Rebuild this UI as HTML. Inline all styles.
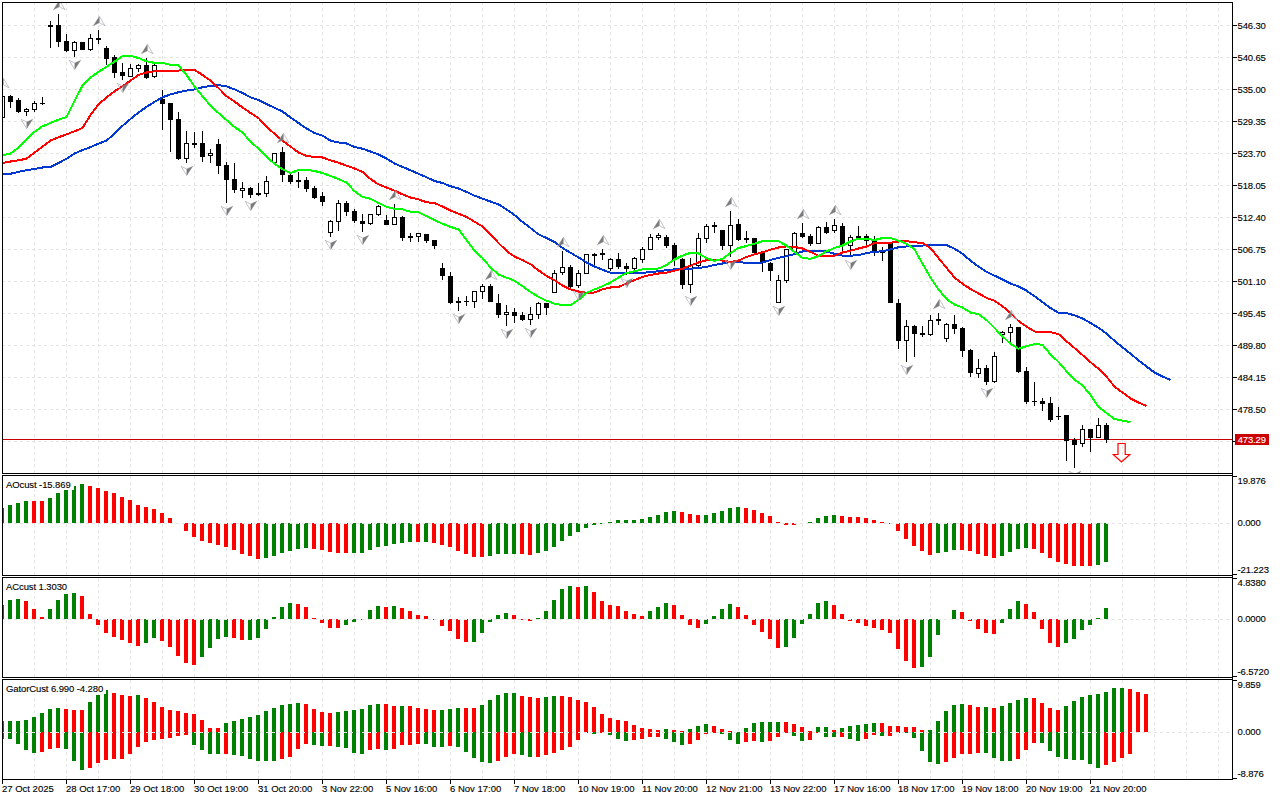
<!DOCTYPE html><html><head><meta charset="utf-8"><title>chart</title><style>
html,body{margin:0;padding:0;background:#fff;width:1280px;height:800px;overflow:hidden}
svg{display:block;position:absolute;left:0;top:0}
text{font-family:"Liberation Sans",sans-serif;font-size:9.5px;letter-spacing:-0.15px;fill:#000;stroke:#000;stroke-width:0.12px}
.wl{letter-spacing:-0.1px}.dl{letter-spacing:0}
.ce{shape-rendering:crispEdges}
</style></head><body>
<svg width="1280" height="800" viewBox="0 0 1280 800">
<rect width="1280" height="800" fill="#fff"/>
<defs>
<clipPath id="cm"><rect x="3" y="3" width="1229" height="470"/></clipPath>
<clipPath id="c1"><rect x="3" y="476" width="1229" height="99"/></clipPath>
<clipPath id="c2"><rect x="3" y="578" width="1229" height="99"/></clipPath>
<clipPath id="c3"><rect x="3" y="680" width="1229" height="99"/></clipPath>
</defs>
<g class="ce" stroke="#e4e4e4" stroke-width="1" fill="none" stroke-dasharray="3 3">
<path d="M34.5 2V473"/>
<path d="M34.5 476V575" clip-path="none" stroke-dashoffset="0"/>
<path d="M34.5 578V677" clip-path="none" stroke-dashoffset="0"/>
<path d="M34.5 680V779" clip-path="none" stroke-dashoffset="0"/>
<path d="M66.5 2V473"/>
<path d="M66.5 476V575" clip-path="none" stroke-dashoffset="0"/>
<path d="M66.5 578V677" clip-path="none" stroke-dashoffset="0"/>
<path d="M66.5 680V779" clip-path="none" stroke-dashoffset="0"/>
<path d="M98.5 2V473"/>
<path d="M98.5 476V575" clip-path="none" stroke-dashoffset="0"/>
<path d="M98.5 578V677" clip-path="none" stroke-dashoffset="0"/>
<path d="M98.5 680V779" clip-path="none" stroke-dashoffset="0"/>
<path d="M130.5 2V473"/>
<path d="M130.5 476V575" clip-path="none" stroke-dashoffset="0"/>
<path d="M130.5 578V677" clip-path="none" stroke-dashoffset="0"/>
<path d="M130.5 680V779" clip-path="none" stroke-dashoffset="0"/>
<path d="M162.5 2V473"/>
<path d="M162.5 476V575" clip-path="none" stroke-dashoffset="0"/>
<path d="M162.5 578V677" clip-path="none" stroke-dashoffset="0"/>
<path d="M162.5 680V779" clip-path="none" stroke-dashoffset="0"/>
<path d="M194.5 2V473"/>
<path d="M194.5 476V575" clip-path="none" stroke-dashoffset="0"/>
<path d="M194.5 578V677" clip-path="none" stroke-dashoffset="0"/>
<path d="M194.5 680V779" clip-path="none" stroke-dashoffset="0"/>
<path d="M226.5 2V473"/>
<path d="M226.5 476V575" clip-path="none" stroke-dashoffset="0"/>
<path d="M226.5 578V677" clip-path="none" stroke-dashoffset="0"/>
<path d="M226.5 680V779" clip-path="none" stroke-dashoffset="0"/>
<path d="M258.5 2V473"/>
<path d="M258.5 476V575" clip-path="none" stroke-dashoffset="0"/>
<path d="M258.5 578V677" clip-path="none" stroke-dashoffset="0"/>
<path d="M258.5 680V779" clip-path="none" stroke-dashoffset="0"/>
<path d="M290.5 2V473"/>
<path d="M290.5 476V575" clip-path="none" stroke-dashoffset="0"/>
<path d="M290.5 578V677" clip-path="none" stroke-dashoffset="0"/>
<path d="M290.5 680V779" clip-path="none" stroke-dashoffset="0"/>
<path d="M322.5 2V473"/>
<path d="M322.5 476V575" clip-path="none" stroke-dashoffset="0"/>
<path d="M322.5 578V677" clip-path="none" stroke-dashoffset="0"/>
<path d="M322.5 680V779" clip-path="none" stroke-dashoffset="0"/>
<path d="M354.5 2V473"/>
<path d="M354.5 476V575" clip-path="none" stroke-dashoffset="0"/>
<path d="M354.5 578V677" clip-path="none" stroke-dashoffset="0"/>
<path d="M354.5 680V779" clip-path="none" stroke-dashoffset="0"/>
<path d="M386.5 2V473"/>
<path d="M386.5 476V575" clip-path="none" stroke-dashoffset="0"/>
<path d="M386.5 578V677" clip-path="none" stroke-dashoffset="0"/>
<path d="M386.5 680V779" clip-path="none" stroke-dashoffset="0"/>
<path d="M418.5 2V473"/>
<path d="M418.5 476V575" clip-path="none" stroke-dashoffset="0"/>
<path d="M418.5 578V677" clip-path="none" stroke-dashoffset="0"/>
<path d="M418.5 680V779" clip-path="none" stroke-dashoffset="0"/>
<path d="M450.5 2V473"/>
<path d="M450.5 476V575" clip-path="none" stroke-dashoffset="0"/>
<path d="M450.5 578V677" clip-path="none" stroke-dashoffset="0"/>
<path d="M450.5 680V779" clip-path="none" stroke-dashoffset="0"/>
<path d="M482.5 2V473"/>
<path d="M482.5 476V575" clip-path="none" stroke-dashoffset="0"/>
<path d="M482.5 578V677" clip-path="none" stroke-dashoffset="0"/>
<path d="M482.5 680V779" clip-path="none" stroke-dashoffset="0"/>
<path d="M514.5 2V473"/>
<path d="M514.5 476V575" clip-path="none" stroke-dashoffset="0"/>
<path d="M514.5 578V677" clip-path="none" stroke-dashoffset="0"/>
<path d="M514.5 680V779" clip-path="none" stroke-dashoffset="0"/>
<path d="M546.5 2V473"/>
<path d="M546.5 476V575" clip-path="none" stroke-dashoffset="0"/>
<path d="M546.5 578V677" clip-path="none" stroke-dashoffset="0"/>
<path d="M546.5 680V779" clip-path="none" stroke-dashoffset="0"/>
<path d="M578.5 2V473"/>
<path d="M578.5 476V575" clip-path="none" stroke-dashoffset="0"/>
<path d="M578.5 578V677" clip-path="none" stroke-dashoffset="0"/>
<path d="M578.5 680V779" clip-path="none" stroke-dashoffset="0"/>
<path d="M610.5 2V473"/>
<path d="M610.5 476V575" clip-path="none" stroke-dashoffset="0"/>
<path d="M610.5 578V677" clip-path="none" stroke-dashoffset="0"/>
<path d="M610.5 680V779" clip-path="none" stroke-dashoffset="0"/>
<path d="M642.5 2V473"/>
<path d="M642.5 476V575" clip-path="none" stroke-dashoffset="0"/>
<path d="M642.5 578V677" clip-path="none" stroke-dashoffset="0"/>
<path d="M642.5 680V779" clip-path="none" stroke-dashoffset="0"/>
<path d="M674.5 2V473"/>
<path d="M674.5 476V575" clip-path="none" stroke-dashoffset="0"/>
<path d="M674.5 578V677" clip-path="none" stroke-dashoffset="0"/>
<path d="M674.5 680V779" clip-path="none" stroke-dashoffset="0"/>
<path d="M706.5 2V473"/>
<path d="M706.5 476V575" clip-path="none" stroke-dashoffset="0"/>
<path d="M706.5 578V677" clip-path="none" stroke-dashoffset="0"/>
<path d="M706.5 680V779" clip-path="none" stroke-dashoffset="0"/>
<path d="M738.5 2V473"/>
<path d="M738.5 476V575" clip-path="none" stroke-dashoffset="0"/>
<path d="M738.5 578V677" clip-path="none" stroke-dashoffset="0"/>
<path d="M738.5 680V779" clip-path="none" stroke-dashoffset="0"/>
<path d="M770.5 2V473"/>
<path d="M770.5 476V575" clip-path="none" stroke-dashoffset="0"/>
<path d="M770.5 578V677" clip-path="none" stroke-dashoffset="0"/>
<path d="M770.5 680V779" clip-path="none" stroke-dashoffset="0"/>
<path d="M802.5 2V473"/>
<path d="M802.5 476V575" clip-path="none" stroke-dashoffset="0"/>
<path d="M802.5 578V677" clip-path="none" stroke-dashoffset="0"/>
<path d="M802.5 680V779" clip-path="none" stroke-dashoffset="0"/>
<path d="M834.5 2V473"/>
<path d="M834.5 476V575" clip-path="none" stroke-dashoffset="0"/>
<path d="M834.5 578V677" clip-path="none" stroke-dashoffset="0"/>
<path d="M834.5 680V779" clip-path="none" stroke-dashoffset="0"/>
<path d="M866.5 2V473"/>
<path d="M866.5 476V575" clip-path="none" stroke-dashoffset="0"/>
<path d="M866.5 578V677" clip-path="none" stroke-dashoffset="0"/>
<path d="M866.5 680V779" clip-path="none" stroke-dashoffset="0"/>
<path d="M898.5 2V473"/>
<path d="M898.5 476V575" clip-path="none" stroke-dashoffset="0"/>
<path d="M898.5 578V677" clip-path="none" stroke-dashoffset="0"/>
<path d="M898.5 680V779" clip-path="none" stroke-dashoffset="0"/>
<path d="M930.5 2V473"/>
<path d="M930.5 476V575" clip-path="none" stroke-dashoffset="0"/>
<path d="M930.5 578V677" clip-path="none" stroke-dashoffset="0"/>
<path d="M930.5 680V779" clip-path="none" stroke-dashoffset="0"/>
<path d="M962.5 2V473"/>
<path d="M962.5 476V575" clip-path="none" stroke-dashoffset="0"/>
<path d="M962.5 578V677" clip-path="none" stroke-dashoffset="0"/>
<path d="M962.5 680V779" clip-path="none" stroke-dashoffset="0"/>
<path d="M994.5 2V473"/>
<path d="M994.5 476V575" clip-path="none" stroke-dashoffset="0"/>
<path d="M994.5 578V677" clip-path="none" stroke-dashoffset="0"/>
<path d="M994.5 680V779" clip-path="none" stroke-dashoffset="0"/>
<path d="M1026.5 2V473"/>
<path d="M1026.5 476V575" clip-path="none" stroke-dashoffset="0"/>
<path d="M1026.5 578V677" clip-path="none" stroke-dashoffset="0"/>
<path d="M1026.5 680V779" clip-path="none" stroke-dashoffset="0"/>
<path d="M1058.5 2V473"/>
<path d="M1058.5 476V575" clip-path="none" stroke-dashoffset="0"/>
<path d="M1058.5 578V677" clip-path="none" stroke-dashoffset="0"/>
<path d="M1058.5 680V779" clip-path="none" stroke-dashoffset="0"/>
<path d="M1090.5 2V473"/>
<path d="M1090.5 476V575" clip-path="none" stroke-dashoffset="0"/>
<path d="M1090.5 578V677" clip-path="none" stroke-dashoffset="0"/>
<path d="M1090.5 680V779" clip-path="none" stroke-dashoffset="0"/>
<path d="M1122.5 2V473"/>
<path d="M1122.5 476V575" clip-path="none" stroke-dashoffset="0"/>
<path d="M1122.5 578V677" clip-path="none" stroke-dashoffset="0"/>
<path d="M1122.5 680V779" clip-path="none" stroke-dashoffset="0"/>
<path d="M1154.5 2V473"/>
<path d="M1154.5 476V575" clip-path="none" stroke-dashoffset="0"/>
<path d="M1154.5 578V677" clip-path="none" stroke-dashoffset="0"/>
<path d="M1154.5 680V779" clip-path="none" stroke-dashoffset="0"/>
<path d="M1186.5 2V473"/>
<path d="M1186.5 476V575" clip-path="none" stroke-dashoffset="0"/>
<path d="M1186.5 578V677" clip-path="none" stroke-dashoffset="0"/>
<path d="M1186.5 680V779" clip-path="none" stroke-dashoffset="0"/>
<path d="M1218.5 2V473"/>
<path d="M1218.5 476V575" clip-path="none" stroke-dashoffset="0"/>
<path d="M1218.5 578V677" clip-path="none" stroke-dashoffset="0"/>
<path d="M1218.5 680V779" clip-path="none" stroke-dashoffset="0"/>
<path d="M2 25.5H1232"/>
<path d="M2 57.5H1232"/>
<path d="M2 89.5H1232"/>
<path d="M2 121.5H1232"/>
<path d="M2 153.5H1232"/>
<path d="M2 185.5H1232"/>
<path d="M2 217.5H1232"/>
<path d="M2 249.5H1232"/>
<path d="M2 281.5H1232"/>
<path d="M2 313.5H1232"/>
<path d="M2 345.5H1232"/>
<path d="M2 377.5H1232"/>
<path d="M2 409.5H1232"/>
<path d="M2 441.5H1232"/>
</g>
<g clip-path="url(#cm)">
<rect class="ce" x="3" y="439" width="1229" height="1" fill="#cc0000"/>
<g class="ce">
<rect x="2" y="92" width="1" height="28" fill="#000"/>
<rect x="0" y="96" width="5" height="22" fill="#000"/>
<rect x="1" y="97" width="3" height="20" fill="#fff"/>
<rect x="10" y="95" width="1" height="13" fill="#000"/>
<rect x="8" y="96" width="5" height="6" fill="#000"/>
<rect x="18" y="98" width="1" height="15" fill="#000"/>
<rect x="16" y="100" width="5" height="12" fill="#000"/>
<rect x="26" y="108" width="1" height="8" fill="#000"/>
<rect x="24" y="109" width="5" height="3" fill="#000"/>
<rect x="25" y="110" width="3" height="1" fill="#fff"/>
<rect x="34" y="101" width="1" height="11" fill="#000"/>
<rect x="32" y="103" width="5" height="7" fill="#000"/>
<rect x="33" y="104" width="3" height="5" fill="#fff"/>
<rect x="42" y="97" width="1" height="8" fill="#000"/>
<rect x="40" y="103" width="5" height="1" fill="#000"/>
<rect x="50" y="21" width="1" height="27" fill="#000"/>
<rect x="48" y="25" width="5" height="2" fill="#000"/>
<rect x="58" y="14" width="1" height="33" fill="#000"/>
<rect x="56" y="25" width="5" height="17" fill="#000"/>
<rect x="66" y="34" width="1" height="18" fill="#000"/>
<rect x="64" y="41" width="5" height="10" fill="#000"/>
<rect x="74" y="41" width="1" height="16" fill="#000"/>
<rect x="72" y="42" width="5" height="9" fill="#000"/>
<rect x="73" y="43" width="3" height="7" fill="#fff"/>
<rect x="82" y="42" width="1" height="8" fill="#000"/>
<rect x="80" y="42" width="5" height="8" fill="#000"/>
<rect x="90" y="34" width="1" height="17" fill="#000"/>
<rect x="88" y="38" width="5" height="12" fill="#000"/>
<rect x="89" y="39" width="3" height="10" fill="#fff"/>
<rect x="98" y="30" width="1" height="14" fill="#000"/>
<rect x="96" y="38" width="5" height="2" fill="#000"/>
<rect x="106" y="46" width="1" height="19" fill="#000"/>
<rect x="104" y="48" width="5" height="11" fill="#000"/>
<rect x="114" y="55" width="1" height="23" fill="#000"/>
<rect x="112" y="57" width="5" height="16" fill="#000"/>
<rect x="122" y="63" width="1" height="17" fill="#000"/>
<rect x="120" y="72" width="5" height="4" fill="#000"/>
<rect x="130" y="64" width="1" height="13" fill="#000"/>
<rect x="128" y="68" width="5" height="9" fill="#000"/>
<rect x="129" y="69" width="3" height="7" fill="#fff"/>
<rect x="138" y="64" width="1" height="8" fill="#000"/>
<rect x="136" y="65" width="5" height="4" fill="#000"/>
<rect x="137" y="66" width="3" height="2" fill="#fff"/>
<rect x="146" y="58" width="1" height="21" fill="#000"/>
<rect x="144" y="65" width="5" height="13" fill="#000"/>
<rect x="154" y="64" width="1" height="14" fill="#000"/>
<rect x="152" y="65" width="5" height="12" fill="#000"/>
<rect x="153" y="66" width="3" height="10" fill="#fff"/>
<rect x="162" y="90" width="1" height="40" fill="#000"/>
<rect x="160" y="99" width="5" height="5" fill="#000"/>
<rect x="170" y="103" width="1" height="49" fill="#000"/>
<rect x="168" y="103" width="5" height="17" fill="#000"/>
<rect x="178" y="112" width="1" height="48" fill="#000"/>
<rect x="176" y="119" width="5" height="40" fill="#000"/>
<rect x="186" y="131" width="1" height="32" fill="#000"/>
<rect x="184" y="143" width="5" height="16" fill="#000"/>
<rect x="185" y="144" width="3" height="14" fill="#fff"/>
<rect x="194" y="132" width="1" height="16" fill="#000"/>
<rect x="192" y="143" width="5" height="2" fill="#000"/>
<rect x="202" y="131" width="1" height="31" fill="#000"/>
<rect x="200" y="143" width="5" height="14" fill="#000"/>
<rect x="210" y="149" width="1" height="14" fill="#000"/>
<rect x="208" y="153" width="5" height="3" fill="#000"/>
<rect x="209" y="154" width="3" height="1" fill="#fff"/>
<rect x="218" y="139" width="1" height="35" fill="#000"/>
<rect x="216" y="144" width="5" height="22" fill="#000"/>
<rect x="226" y="162" width="1" height="41" fill="#000"/>
<rect x="224" y="165" width="5" height="15" fill="#000"/>
<rect x="234" y="163" width="1" height="30" fill="#000"/>
<rect x="232" y="179" width="5" height="11" fill="#000"/>
<rect x="242" y="182" width="1" height="16" fill="#000"/>
<rect x="240" y="188" width="5" height="3" fill="#000"/>
<rect x="241" y="189" width="3" height="1" fill="#fff"/>
<rect x="250" y="187" width="1" height="11" fill="#000"/>
<rect x="248" y="188" width="5" height="7" fill="#000"/>
<rect x="258" y="183" width="1" height="13" fill="#000"/>
<rect x="256" y="193" width="5" height="2" fill="#000"/>
<rect x="266" y="176" width="1" height="21" fill="#000"/>
<rect x="264" y="181" width="5" height="13" fill="#000"/>
<rect x="265" y="182" width="3" height="11" fill="#fff"/>
<rect x="274" y="153" width="1" height="10" fill="#000"/>
<rect x="272" y="153" width="5" height="10" fill="#000"/>
<rect x="273" y="154" width="3" height="8" fill="#fff"/>
<rect x="282" y="147" width="1" height="35" fill="#000"/>
<rect x="280" y="152" width="5" height="23" fill="#000"/>
<rect x="290" y="174" width="1" height="10" fill="#000"/>
<rect x="288" y="175" width="5" height="7" fill="#000"/>
<rect x="298" y="172" width="1" height="16" fill="#000"/>
<rect x="296" y="180" width="5" height="2" fill="#000"/>
<rect x="306" y="177" width="1" height="15" fill="#000"/>
<rect x="304" y="180" width="5" height="9" fill="#000"/>
<rect x="314" y="186" width="1" height="13" fill="#000"/>
<rect x="312" y="188" width="5" height="10" fill="#000"/>
<rect x="322" y="192" width="1" height="14" fill="#000"/>
<rect x="320" y="196" width="5" height="6" fill="#000"/>
<rect x="330" y="220" width="1" height="17" fill="#000"/>
<rect x="328" y="221" width="5" height="12" fill="#000"/>
<rect x="329" y="222" width="3" height="10" fill="#fff"/>
<rect x="338" y="200" width="1" height="31" fill="#000"/>
<rect x="336" y="203" width="5" height="19" fill="#000"/>
<rect x="337" y="204" width="3" height="17" fill="#fff"/>
<rect x="346" y="201" width="1" height="15" fill="#000"/>
<rect x="344" y="203" width="5" height="9" fill="#000"/>
<rect x="354" y="209" width="1" height="14" fill="#000"/>
<rect x="352" y="211" width="5" height="10" fill="#000"/>
<rect x="362" y="214" width="1" height="18" fill="#000"/>
<rect x="360" y="221" width="5" height="3" fill="#000"/>
<rect x="370" y="214" width="1" height="11" fill="#000"/>
<rect x="368" y="214" width="5" height="10" fill="#000"/>
<rect x="369" y="215" width="3" height="8" fill="#fff"/>
<rect x="378" y="205" width="1" height="11" fill="#000"/>
<rect x="376" y="206" width="5" height="9" fill="#000"/>
<rect x="377" y="207" width="3" height="7" fill="#fff"/>
<rect x="386" y="215" width="1" height="10" fill="#000"/>
<rect x="384" y="220" width="5" height="5" fill="#000"/>
<rect x="394" y="204" width="1" height="21" fill="#000"/>
<rect x="392" y="217" width="5" height="8" fill="#000"/>
<rect x="393" y="218" width="3" height="6" fill="#fff"/>
<rect x="402" y="216" width="1" height="25" fill="#000"/>
<rect x="400" y="217" width="5" height="21" fill="#000"/>
<rect x="410" y="233" width="1" height="9" fill="#000"/>
<rect x="408" y="236" width="5" height="2" fill="#000"/>
<rect x="418" y="233" width="1" height="9" fill="#000"/>
<rect x="416" y="233" width="5" height="4" fill="#000"/>
<rect x="417" y="234" width="3" height="2" fill="#fff"/>
<rect x="426" y="234" width="1" height="9" fill="#000"/>
<rect x="424" y="234" width="5" height="7" fill="#000"/>
<rect x="434" y="240" width="1" height="9" fill="#000"/>
<rect x="432" y="240" width="5" height="6" fill="#000"/>
<rect x="442" y="263" width="1" height="17" fill="#000"/>
<rect x="440" y="268" width="5" height="8" fill="#000"/>
<rect x="450" y="272" width="1" height="32" fill="#000"/>
<rect x="448" y="276" width="5" height="27" fill="#000"/>
<rect x="458" y="297" width="1" height="14" fill="#000"/>
<rect x="456" y="301" width="5" height="2" fill="#000"/>
<rect x="466" y="296" width="1" height="10" fill="#000"/>
<rect x="464" y="301" width="5" height="1" fill="#000"/>
<rect x="474" y="291" width="1" height="17" fill="#000"/>
<rect x="472" y="291" width="5" height="11" fill="#000"/>
<rect x="473" y="292" width="3" height="9" fill="#fff"/>
<rect x="482" y="284" width="1" height="15" fill="#000"/>
<rect x="480" y="286" width="5" height="6" fill="#000"/>
<rect x="481" y="287" width="3" height="4" fill="#fff"/>
<rect x="490" y="284" width="1" height="18" fill="#000"/>
<rect x="488" y="286" width="5" height="16" fill="#000"/>
<rect x="498" y="294" width="1" height="24" fill="#000"/>
<rect x="496" y="303" width="5" height="12" fill="#000"/>
<rect x="506" y="305" width="1" height="21" fill="#000"/>
<rect x="504" y="312" width="5" height="3" fill="#000"/>
<rect x="505" y="313" width="3" height="1" fill="#fff"/>
<rect x="514" y="308" width="1" height="15" fill="#000"/>
<rect x="512" y="312" width="5" height="4" fill="#000"/>
<rect x="522" y="312" width="1" height="9" fill="#000"/>
<rect x="520" y="315" width="5" height="5" fill="#000"/>
<rect x="530" y="307" width="1" height="18" fill="#000"/>
<rect x="528" y="314" width="5" height="6" fill="#000"/>
<rect x="529" y="315" width="3" height="4" fill="#fff"/>
<rect x="538" y="302" width="1" height="17" fill="#000"/>
<rect x="536" y="303" width="5" height="12" fill="#000"/>
<rect x="537" y="304" width="3" height="10" fill="#fff"/>
<rect x="546" y="303" width="1" height="12" fill="#000"/>
<rect x="544" y="303" width="5" height="5" fill="#000"/>
<rect x="554" y="270" width="1" height="23" fill="#000"/>
<rect x="552" y="273" width="5" height="20" fill="#000"/>
<rect x="553" y="274" width="3" height="18" fill="#fff"/>
<rect x="562" y="251" width="1" height="24" fill="#000"/>
<rect x="560" y="267" width="5" height="6" fill="#000"/>
<rect x="561" y="268" width="3" height="4" fill="#fff"/>
<rect x="570" y="265" width="1" height="23" fill="#000"/>
<rect x="568" y="267" width="5" height="20" fill="#000"/>
<rect x="578" y="270" width="1" height="18" fill="#000"/>
<rect x="576" y="273" width="5" height="13" fill="#000"/>
<rect x="577" y="274" width="3" height="11" fill="#fff"/>
<rect x="586" y="254" width="1" height="20" fill="#000"/>
<rect x="584" y="254" width="5" height="20" fill="#000"/>
<rect x="585" y="255" width="3" height="18" fill="#fff"/>
<rect x="594" y="253" width="1" height="13" fill="#000"/>
<rect x="592" y="254" width="5" height="2" fill="#000"/>
<rect x="602" y="249" width="1" height="11" fill="#000"/>
<rect x="600" y="253" width="5" height="2" fill="#000"/>
<rect x="610" y="258" width="1" height="13" fill="#000"/>
<rect x="608" y="259" width="5" height="10" fill="#000"/>
<rect x="609" y="260" width="3" height="8" fill="#fff"/>
<rect x="618" y="253" width="1" height="16" fill="#000"/>
<rect x="616" y="259" width="5" height="8" fill="#000"/>
<rect x="626" y="263" width="1" height="12" fill="#000"/>
<rect x="624" y="266" width="5" height="3" fill="#000"/>
<rect x="634" y="257" width="1" height="13" fill="#000"/>
<rect x="632" y="258" width="5" height="11" fill="#000"/>
<rect x="633" y="259" width="3" height="9" fill="#fff"/>
<rect x="642" y="247" width="1" height="16" fill="#000"/>
<rect x="640" y="249" width="5" height="11" fill="#000"/>
<rect x="641" y="250" width="3" height="9" fill="#fff"/>
<rect x="650" y="234" width="1" height="16" fill="#000"/>
<rect x="648" y="237" width="5" height="13" fill="#000"/>
<rect x="649" y="238" width="3" height="11" fill="#fff"/>
<rect x="658" y="233" width="1" height="7" fill="#000"/>
<rect x="656" y="235" width="5" height="3" fill="#000"/>
<rect x="657" y="236" width="3" height="1" fill="#fff"/>
<rect x="666" y="235" width="1" height="13" fill="#000"/>
<rect x="664" y="237" width="5" height="9" fill="#000"/>
<rect x="674" y="243" width="1" height="23" fill="#000"/>
<rect x="672" y="245" width="5" height="15" fill="#000"/>
<rect x="682" y="258" width="1" height="31" fill="#000"/>
<rect x="680" y="259" width="5" height="26" fill="#000"/>
<rect x="690" y="258" width="1" height="35" fill="#000"/>
<rect x="688" y="265" width="5" height="20" fill="#000"/>
<rect x="689" y="266" width="3" height="18" fill="#fff"/>
<rect x="698" y="233" width="1" height="34" fill="#000"/>
<rect x="696" y="238" width="5" height="28" fill="#000"/>
<rect x="697" y="239" width="3" height="26" fill="#fff"/>
<rect x="706" y="224" width="1" height="19" fill="#000"/>
<rect x="704" y="226" width="5" height="13" fill="#000"/>
<rect x="705" y="227" width="3" height="11" fill="#fff"/>
<rect x="714" y="222" width="1" height="11" fill="#000"/>
<rect x="712" y="225" width="5" height="2" fill="#000"/>
<rect x="722" y="230" width="1" height="20" fill="#000"/>
<rect x="720" y="230" width="5" height="16" fill="#000"/>
<rect x="730" y="211" width="1" height="46" fill="#000"/>
<rect x="728" y="225" width="5" height="21" fill="#000"/>
<rect x="729" y="226" width="3" height="19" fill="#fff"/>
<rect x="738" y="219" width="1" height="22" fill="#000"/>
<rect x="736" y="224" width="5" height="16" fill="#000"/>
<rect x="746" y="231" width="1" height="12" fill="#000"/>
<rect x="744" y="238" width="5" height="2" fill="#000"/>
<rect x="754" y="238" width="1" height="15" fill="#000"/>
<rect x="752" y="238" width="5" height="15" fill="#000"/>
<rect x="762" y="253" width="1" height="19" fill="#000"/>
<rect x="760" y="253" width="5" height="10" fill="#000"/>
<rect x="770" y="262" width="1" height="19" fill="#000"/>
<rect x="768" y="263" width="5" height="8" fill="#000"/>
<rect x="778" y="275" width="1" height="28" fill="#000"/>
<rect x="776" y="280" width="5" height="23" fill="#000"/>
<rect x="777" y="281" width="3" height="21" fill="#fff"/>
<rect x="786" y="249" width="1" height="34" fill="#000"/>
<rect x="784" y="249" width="5" height="32" fill="#000"/>
<rect x="785" y="250" width="3" height="30" fill="#fff"/>
<rect x="794" y="232" width="1" height="20" fill="#000"/>
<rect x="792" y="233" width="5" height="19" fill="#000"/>
<rect x="793" y="234" width="3" height="17" fill="#fff"/>
<rect x="802" y="223" width="1" height="15" fill="#000"/>
<rect x="800" y="233" width="5" height="4" fill="#000"/>
<rect x="810" y="234" width="1" height="12" fill="#000"/>
<rect x="808" y="236" width="5" height="8" fill="#000"/>
<rect x="818" y="226" width="1" height="18" fill="#000"/>
<rect x="816" y="227" width="5" height="17" fill="#000"/>
<rect x="817" y="228" width="3" height="15" fill="#fff"/>
<rect x="826" y="222" width="1" height="12" fill="#000"/>
<rect x="824" y="227" width="5" height="6" fill="#000"/>
<rect x="834" y="219" width="1" height="14" fill="#000"/>
<rect x="832" y="225" width="5" height="6" fill="#000"/>
<rect x="833" y="226" width="3" height="4" fill="#fff"/>
<rect x="842" y="223" width="1" height="28" fill="#000"/>
<rect x="840" y="226" width="5" height="20" fill="#000"/>
<rect x="850" y="235" width="1" height="22" fill="#000"/>
<rect x="848" y="237" width="5" height="9" fill="#000"/>
<rect x="849" y="238" width="3" height="7" fill="#fff"/>
<rect x="858" y="226" width="1" height="14" fill="#000"/>
<rect x="856" y="236" width="5" height="2" fill="#000"/>
<rect x="866" y="234" width="1" height="11" fill="#000"/>
<rect x="864" y="236" width="5" height="5" fill="#000"/>
<rect x="874" y="236" width="1" height="20" fill="#000"/>
<rect x="872" y="241" width="5" height="12" fill="#000"/>
<rect x="882" y="247" width="1" height="14" fill="#000"/>
<rect x="880" y="250" width="5" height="3" fill="#000"/>
<rect x="890" y="243" width="1" height="60" fill="#000"/>
<rect x="888" y="243" width="5" height="60" fill="#000"/>
<rect x="898" y="299" width="1" height="50" fill="#000"/>
<rect x="896" y="303" width="5" height="38" fill="#000"/>
<rect x="906" y="320" width="1" height="42" fill="#000"/>
<rect x="904" y="326" width="5" height="15" fill="#000"/>
<rect x="905" y="327" width="3" height="13" fill="#fff"/>
<rect x="914" y="325" width="1" height="32" fill="#000"/>
<rect x="912" y="326" width="5" height="8" fill="#000"/>
<rect x="922" y="326" width="1" height="11" fill="#000"/>
<rect x="920" y="333" width="5" height="2" fill="#000"/>
<rect x="930" y="315" width="1" height="21" fill="#000"/>
<rect x="928" y="320" width="5" height="15" fill="#000"/>
<rect x="929" y="321" width="3" height="13" fill="#fff"/>
<rect x="938" y="313" width="1" height="12" fill="#000"/>
<rect x="936" y="319" width="5" height="2" fill="#000"/>
<rect x="946" y="323" width="1" height="19" fill="#000"/>
<rect x="944" y="324" width="5" height="15" fill="#000"/>
<rect x="945" y="325" width="3" height="13" fill="#fff"/>
<rect x="954" y="315" width="1" height="19" fill="#000"/>
<rect x="952" y="324" width="5" height="5" fill="#000"/>
<rect x="962" y="327" width="1" height="30" fill="#000"/>
<rect x="960" y="328" width="5" height="23" fill="#000"/>
<rect x="970" y="349" width="1" height="28" fill="#000"/>
<rect x="968" y="350" width="5" height="23" fill="#000"/>
<rect x="978" y="359" width="1" height="19" fill="#000"/>
<rect x="976" y="368" width="5" height="6" fill="#000"/>
<rect x="977" y="369" width="3" height="4" fill="#fff"/>
<rect x="986" y="365" width="1" height="20" fill="#000"/>
<rect x="984" y="368" width="5" height="14" fill="#000"/>
<rect x="994" y="352" width="1" height="31" fill="#000"/>
<rect x="992" y="356" width="5" height="26" fill="#000"/>
<rect x="993" y="357" width="3" height="24" fill="#fff"/>
<rect x="1002" y="331" width="1" height="12" fill="#000"/>
<rect x="1000" y="332" width="5" height="3" fill="#000"/>
<rect x="1001" y="333" width="3" height="1" fill="#fff"/>
<rect x="1010" y="324" width="1" height="18" fill="#000"/>
<rect x="1008" y="327" width="5" height="6" fill="#000"/>
<rect x="1009" y="328" width="3" height="4" fill="#fff"/>
<rect x="1018" y="327" width="1" height="46" fill="#000"/>
<rect x="1016" y="327" width="5" height="45" fill="#000"/>
<rect x="1026" y="367" width="1" height="37" fill="#000"/>
<rect x="1024" y="371" width="5" height="31" fill="#000"/>
<rect x="1034" y="382" width="1" height="24" fill="#000"/>
<rect x="1032" y="401" width="5" height="1" fill="#000"/>
<rect x="1042" y="398" width="1" height="13" fill="#000"/>
<rect x="1040" y="401" width="5" height="3" fill="#000"/>
<rect x="1050" y="397" width="1" height="25" fill="#000"/>
<rect x="1048" y="403" width="5" height="17" fill="#000"/>
<rect x="1058" y="407" width="1" height="13" fill="#000"/>
<rect x="1056" y="416" width="5" height="1" fill="#000"/>
<rect x="1066" y="415" width="1" height="46" fill="#000"/>
<rect x="1064" y="415" width="5" height="26" fill="#000"/>
<rect x="1074" y="438" width="1" height="30" fill="#000"/>
<rect x="1072" y="440" width="5" height="5" fill="#000"/>
<rect x="1082" y="425" width="1" height="22" fill="#000"/>
<rect x="1080" y="429" width="5" height="15" fill="#000"/>
<rect x="1081" y="430" width="3" height="13" fill="#fff"/>
<rect x="1090" y="429" width="1" height="23" fill="#000"/>
<rect x="1088" y="429" width="5" height="9" fill="#000"/>
<rect x="1098" y="418" width="1" height="20" fill="#000"/>
<rect x="1096" y="425" width="5" height="13" fill="#000"/>
<rect x="1097" y="426" width="3" height="11" fill="#fff"/>
<rect x="1106" y="423" width="1" height="20" fill="#000"/>
<rect x="1104" y="425" width="5" height="15" fill="#000"/>
</g>
<polyline class="ce" points="2.5,174.00 10.5,173.75 18.5,171.90 26.5,170.25 34.5,169.00 42.5,167.50 50.5,166.90 58.5,163.00 66.5,158.75 74.5,153.50 82.5,150.10 90.5,147.10 98.5,143.75 106.5,140.60 114.5,133.75 122.5,125.90 130.5,119.00 138.5,112.50 146.5,106.90 154.5,101.90 162.5,97.25 170.5,94.40 178.5,92.25 186.5,90.60 194.5,89.40 202.5,87.25 210.5,86.00 218.5,85.25 226.5,86.25 234.5,89.40 242.5,93.00 250.5,97.25 258.5,100.00 266.5,104.00 274.5,107.75 282.5,111.50 290.5,117.50 298.5,123.00 306.5,128.50 314.5,133.00 322.5,135.60 330.5,140.60 338.5,142.50 346.5,143.50 354.5,146.90 362.5,148.75 370.5,151.50 378.5,154.40 386.5,158.50 394.5,163.50 402.5,166.90 410.5,170.25 418.5,173.75 426.5,177.25 434.5,181.00 442.5,183.00 450.5,186.25 458.5,188.50 466.5,191.90 474.5,195.60 482.5,198.75 490.5,201.50 498.5,204.40 506.5,209.40 514.5,215.00 522.5,221.90 530.5,228.00 538.5,234.40 546.5,238.00 554.5,241.90 562.5,248.00 570.5,252.75 578.5,257.40 586.5,262.50 594.5,266.50 602.5,269.75 610.5,272.75 618.5,272.75 626.5,272.75 634.5,272.75 642.5,272.75 650.5,272.25 658.5,271.25 666.5,270.25 674.5,269.40 682.5,269.00 690.5,268.75 698.5,268.00 706.5,266.90 714.5,265.00 722.5,263.50 730.5,261.90 738.5,261.90 746.5,263.00 754.5,263.00 762.5,262.50 770.5,260.00 778.5,257.75 786.5,256.25 794.5,254.00 802.5,251.50 810.5,251.25 818.5,251.25 826.5,251.50 834.5,253.75 842.5,255.60 850.5,255.60 858.5,255.25 866.5,253.00 874.5,251.90 882.5,251.25 890.5,249.40 898.5,247.25 906.5,246.50 914.5,245.60 922.5,245.60 930.5,244.75 938.5,244.75 946.5,245.10 954.5,248.75 962.5,253.75 970.5,260.60 978.5,266.50 986.5,271.90 994.5,275.60 1002.5,279.40 1010.5,283.50 1018.5,286.50 1026.5,290.60 1034.5,296.25 1042.5,302.10 1050.5,308.00 1058.5,312.75 1066.5,313.00 1074.5,315.40 1082.5,318.50 1090.5,323.00 1098.5,327.70 1106.5,333.60 1114.5,340.80 1122.5,347.25 1130.5,353.75 1138.5,360.25 1146.5,366.50 1154.5,372.50 1162.5,376.50 1170.5,380.00" fill="none" stroke="#0038d0" stroke-width="2" stroke-linejoin="round"/>
<polyline class="ce" points="2.5,163.00 10.5,161.50 18.5,160.25 26.5,158.75 34.5,152.75 42.5,146.60 50.5,140.60 58.5,137.20 66.5,134.40 74.5,131.25 82.5,128.00 90.5,115.00 98.5,104.40 106.5,97.50 114.5,91.25 122.5,86.25 130.5,80.60 138.5,75.00 146.5,72.50 154.5,71.25 162.5,71.00 170.5,71.00 178.5,70.60 186.5,69.75 194.5,69.75 202.5,75.00 210.5,80.60 218.5,88.00 226.5,96.25 234.5,101.50 242.5,107.50 250.5,113.00 258.5,118.00 266.5,126.90 274.5,133.75 282.5,140.60 290.5,146.50 298.5,152.50 306.5,156.00 314.5,156.90 322.5,157.50 330.5,160.25 338.5,162.75 346.5,165.60 354.5,168.50 362.5,171.90 370.5,179.00 378.5,184.40 386.5,187.50 394.5,190.60 402.5,194.40 410.5,197.50 418.5,199.40 426.5,202.25 434.5,203.00 442.5,206.50 450.5,210.60 458.5,213.75 466.5,216.90 474.5,221.70 482.5,226.50 490.5,234.40 498.5,243.00 506.5,250.80 514.5,256.70 522.5,260.10 530.5,264.20 538.5,270.30 546.5,275.80 554.5,280.30 562.5,285.60 570.5,289.40 578.5,291.50 586.5,292.75 594.5,292.50 602.5,289.40 610.5,287.50 618.5,286.90 626.5,283.50 634.5,280.00 642.5,276.90 650.5,275.00 658.5,273.50 666.5,272.75 674.5,270.60 682.5,268.75 690.5,265.60 698.5,262.50 706.5,260.25 714.5,259.75 722.5,260.60 730.5,261.90 738.5,260.60 746.5,256.90 754.5,254.40 762.5,252.25 770.5,249.75 778.5,247.50 786.5,246.50 794.5,246.90 802.5,248.50 810.5,251.90 818.5,255.60 826.5,255.60 834.5,255.60 842.5,252.50 850.5,250.60 858.5,248.50 866.5,246.50 874.5,243.00 882.5,242.75 890.5,242.75 898.5,241.50 906.5,241.25 914.5,242.25 922.5,243.00 930.5,248.00 938.5,258.00 946.5,267.70 954.5,277.50 962.5,283.75 970.5,289.00 978.5,293.40 986.5,297.90 994.5,300.60 1002.5,306.25 1010.5,313.00 1018.5,321.00 1026.5,326.50 1034.5,331.50 1042.5,331.90 1050.5,332.25 1058.5,334.00 1066.5,341.25 1074.5,348.00 1082.5,355.00 1090.5,362.20 1098.5,368.75 1106.5,376.60 1114.5,386.60 1122.5,392.50 1130.5,398.40 1138.5,402.50 1146.5,406.00" fill="none" stroke="#ff0000" stroke-width="2" stroke-linejoin="round"/>
<polyline class="ce" points="2.5,155.00 10.5,153.75 18.5,147.60 26.5,139.70 34.5,131.90 42.5,126.25 50.5,123.00 58.5,119.75 66.5,116.90 74.5,101.00 82.5,85.60 90.5,77.50 98.5,71.90 106.5,66.90 114.5,61.70 122.5,56.25 130.5,55.90 138.5,58.00 146.5,61.25 154.5,62.90 162.5,63.00 170.5,64.75 178.5,65.25 186.5,75.00 194.5,86.25 202.5,96.25 210.5,105.60 218.5,113.00 226.5,120.00 234.5,126.90 242.5,132.50 250.5,141.50 258.5,148.75 266.5,156.90 274.5,163.75 282.5,169.40 290.5,173.00 298.5,170.00 306.5,169.75 314.5,171.00 322.5,173.00 330.5,176.00 338.5,179.00 346.5,182.50 354.5,191.25 362.5,196.90 370.5,198.75 378.5,202.90 386.5,206.70 394.5,209.00 402.5,209.40 410.5,211.70 418.5,212.40 426.5,216.10 434.5,220.10 442.5,223.75 450.5,226.90 458.5,229.40 466.5,240.00 474.5,250.60 482.5,258.00 490.5,267.40 498.5,274.60 506.5,277.60 514.5,280.60 522.5,286.25 530.5,291.90 538.5,296.90 546.5,300.60 554.5,303.75 562.5,305.00 570.5,305.00 578.5,300.00 586.5,293.00 594.5,289.40 602.5,286.25 610.5,282.50 618.5,277.50 626.5,273.00 634.5,271.25 642.5,269.40 650.5,269.00 658.5,268.50 666.5,265.00 674.5,259.40 682.5,255.60 690.5,252.75 698.5,253.50 706.5,258.00 714.5,261.00 722.5,258.75 730.5,253.00 738.5,248.00 746.5,246.00 754.5,243.75 762.5,241.25 770.5,241.00 778.5,241.25 786.5,245.60 794.5,251.90 802.5,258.00 810.5,258.75 818.5,256.25 826.5,251.25 834.5,248.00 842.5,245.60 850.5,241.50 858.5,238.75 866.5,238.75 874.5,240.00 882.5,238.00 890.5,238.00 898.5,240.60 906.5,243.75 914.5,249.40 922.5,263.75 930.5,277.50 938.5,289.40 946.5,298.90 954.5,304.60 962.5,307.50 970.5,312.50 978.5,314.20 986.5,320.00 994.5,328.00 1002.5,336.25 1010.5,343.75 1018.5,348.75 1026.5,346.25 1034.5,344.00 1042.5,344.75 1050.5,354.40 1058.5,361.90 1066.5,371.25 1074.5,379.70 1082.5,385.30 1090.5,395.00 1098.5,406.90 1106.5,413.00 1114.5,419.00 1122.5,420.60 1130.5,422.25" fill="none" stroke="#00ff00" stroke-width="2" stroke-linejoin="round"/>
<g>
<path d="M3.4 78.25L-2.5999999999999996 87.75L3.4 84.75Z" fill="#7a7a7a" stroke="#8a8a8a" stroke-width="0.4"/><path d="M3.4 78.25L9.0 87.75L3.4 84.75" fill="none" stroke="#b4b4c0" stroke-width="0.8"/>
<path d="M59.4 0.25L53.4 9.75L59.4 6.75Z" fill="#7a7a7a" stroke="#8a8a8a" stroke-width="0.4"/><path d="M59.4 0.25L65.0 9.75L59.4 6.75" fill="none" stroke="#b4b4c0" stroke-width="0.8"/>
<path d="M99.4 16.25L93.4 25.75L99.4 22.75Z" fill="#7a7a7a" stroke="#8a8a8a" stroke-width="0.4"/><path d="M99.4 16.25L105.0 25.75L99.4 22.75" fill="none" stroke="#b4b4c0" stroke-width="0.8"/>
<path d="M147.4 44.25L141.4 53.75L147.4 50.75Z" fill="#7a7a7a" stroke="#8a8a8a" stroke-width="0.4"/><path d="M147.4 44.25L153.0 53.75L147.4 50.75" fill="none" stroke="#b4b4c0" stroke-width="0.8"/>
<path d="M283.4 133.25L277.4 142.75L283.4 139.75Z" fill="#7a7a7a" stroke="#8a8a8a" stroke-width="0.4"/><path d="M283.4 133.25L289.0 142.75L283.4 139.75" fill="none" stroke="#b4b4c0" stroke-width="0.8"/>
<path d="M395.4 190.25L389.4 199.75L395.4 196.75Z" fill="#7a7a7a" stroke="#8a8a8a" stroke-width="0.4"/><path d="M395.4 190.25L401.0 199.75L395.4 196.75" fill="none" stroke="#b4b4c0" stroke-width="0.8"/>
<path d="M491.4 270.25L485.4 279.75L491.4 276.75Z" fill="#7a7a7a" stroke="#8a8a8a" stroke-width="0.4"/><path d="M491.4 270.25L497.0 279.75L491.4 276.75" fill="none" stroke="#b4b4c0" stroke-width="0.8"/>
<path d="M563.4 237.25L557.4 246.75L563.4 243.75Z" fill="#7a7a7a" stroke="#8a8a8a" stroke-width="0.4"/><path d="M563.4 237.25L569.0 246.75L563.4 243.75" fill="none" stroke="#b4b4c0" stroke-width="0.8"/>
<path d="M603.4 235.25L597.4 244.75L603.4 241.75Z" fill="#7a7a7a" stroke="#8a8a8a" stroke-width="0.4"/><path d="M603.4 235.25L609.0 244.75L603.4 241.75" fill="none" stroke="#b4b4c0" stroke-width="0.8"/>
<path d="M659.4 219.25L653.4 228.75L659.4 225.75Z" fill="#7a7a7a" stroke="#8a8a8a" stroke-width="0.4"/><path d="M659.4 219.25L665.0 228.75L659.4 225.75" fill="none" stroke="#b4b4c0" stroke-width="0.8"/>
<path d="M731.4 197.25L725.4 206.75L731.4 203.75Z" fill="#7a7a7a" stroke="#8a8a8a" stroke-width="0.4"/><path d="M731.4 197.25L737.0 206.75L731.4 203.75" fill="none" stroke="#b4b4c0" stroke-width="0.8"/>
<path d="M803.4 209.25L797.4 218.75L803.4 215.75Z" fill="#7a7a7a" stroke="#8a8a8a" stroke-width="0.4"/><path d="M803.4 209.25L809.0 218.75L803.4 215.75" fill="none" stroke="#b4b4c0" stroke-width="0.8"/>
<path d="M835.4 205.25L829.4 214.75L835.4 211.75Z" fill="#7a7a7a" stroke="#8a8a8a" stroke-width="0.4"/><path d="M835.4 205.25L841.0 214.75L835.4 211.75" fill="none" stroke="#b4b4c0" stroke-width="0.8"/>
<path d="M939.4 299.25L933.4 308.75L939.4 305.75Z" fill="#7a7a7a" stroke="#8a8a8a" stroke-width="0.4"/><path d="M939.4 299.25L945.0 308.75L939.4 305.75" fill="none" stroke="#b4b4c0" stroke-width="0.8"/>
<path d="M1011.4 310.25L1005.4 319.75L1011.4 316.75Z" fill="#7a7a7a" stroke="#8a8a8a" stroke-width="0.4"/><path d="M1011.4 310.25L1017.0 319.75L1011.4 316.75" fill="none" stroke="#b4b4c0" stroke-width="0.8"/>
<path d="M26.75 128.6L32.75 119.25L26.75 122.0Z" fill="#7a7a7a" stroke="#8a8a8a" stroke-width="0.4"/><path d="M26.75 128.6L21.1 119.25L26.75 122.0" fill="none" stroke="#b4b4c0" stroke-width="0.8"/>
<path d="M74.75 69.6L80.75 60.25L74.75 63.0Z" fill="#7a7a7a" stroke="#8a8a8a" stroke-width="0.4"/><path d="M74.75 69.6L69.1 60.25L74.75 63.0" fill="none" stroke="#b4b4c0" stroke-width="0.8"/>
<path d="M122.75 92.6L128.75 83.25L122.75 86.0Z" fill="#7a7a7a" stroke="#8a8a8a" stroke-width="0.4"/><path d="M122.75 92.6L117.1 83.25L122.75 86.0" fill="none" stroke="#b4b4c0" stroke-width="0.8"/>
<path d="M186.75 175.6L192.75 166.25L186.75 169.0Z" fill="#7a7a7a" stroke="#8a8a8a" stroke-width="0.4"/><path d="M186.75 175.6L181.1 166.25L186.75 169.0" fill="none" stroke="#b4b4c0" stroke-width="0.8"/>
<path d="M226.75 215.6L232.75 206.25L226.75 209.0Z" fill="#7a7a7a" stroke="#8a8a8a" stroke-width="0.4"/><path d="M226.75 215.6L221.1 206.25L226.75 209.0" fill="none" stroke="#b4b4c0" stroke-width="0.8"/>
<path d="M250.75 210.6L256.75 201.25L250.75 204.0Z" fill="#7a7a7a" stroke="#8a8a8a" stroke-width="0.4"/><path d="M250.75 210.6L245.1 201.25L250.75 204.0" fill="none" stroke="#b4b4c0" stroke-width="0.8"/>
<path d="M330.75 249.6L336.75 240.25L330.75 243.0Z" fill="#7a7a7a" stroke="#8a8a8a" stroke-width="0.4"/><path d="M330.75 249.6L325.1 240.25L330.75 243.0" fill="none" stroke="#b4b4c0" stroke-width="0.8"/>
<path d="M362.75 244.6L368.75 235.25L362.75 238.0Z" fill="#7a7a7a" stroke="#8a8a8a" stroke-width="0.4"/><path d="M362.75 244.6L357.1 235.25L362.75 238.0" fill="none" stroke="#b4b4c0" stroke-width="0.8"/>
<path d="M458.75 323.6L464.75 314.25L458.75 317.0Z" fill="#7a7a7a" stroke="#8a8a8a" stroke-width="0.4"/><path d="M458.75 323.6L453.1 314.25L458.75 317.0" fill="none" stroke="#b4b4c0" stroke-width="0.8"/>
<path d="M506.75 338.6L512.75 329.25L506.75 332.0Z" fill="#7a7a7a" stroke="#8a8a8a" stroke-width="0.4"/><path d="M506.75 338.6L501.1 329.25L506.75 332.0" fill="none" stroke="#b4b4c0" stroke-width="0.8"/>
<path d="M530.75 337.6L536.75 328.25L530.75 331.0Z" fill="#7a7a7a" stroke="#8a8a8a" stroke-width="0.4"/><path d="M530.75 337.6L525.1 328.25L530.75 331.0" fill="none" stroke="#b4b4c0" stroke-width="0.8"/>
<path d="M578.75 300.6L584.75 291.25L578.75 294.0Z" fill="#7a7a7a" stroke="#8a8a8a" stroke-width="0.4"/><path d="M578.75 300.6L573.1 291.25L578.75 294.0" fill="none" stroke="#b4b4c0" stroke-width="0.8"/>
<path d="M626.75 287.6L632.75 278.25L626.75 281.0Z" fill="#7a7a7a" stroke="#8a8a8a" stroke-width="0.4"/><path d="M626.75 287.6L621.1 278.25L626.75 281.0" fill="none" stroke="#b4b4c0" stroke-width="0.8"/>
<path d="M690.75 305.6L696.75 296.25L690.75 299.0Z" fill="#7a7a7a" stroke="#8a8a8a" stroke-width="0.4"/><path d="M690.75 305.6L685.1 296.25L690.75 299.0" fill="none" stroke="#b4b4c0" stroke-width="0.8"/>
<path d="M730.75 269.6L736.75 260.25L730.75 263.0Z" fill="#7a7a7a" stroke="#8a8a8a" stroke-width="0.4"/><path d="M730.75 269.6L725.1 260.25L730.75 263.0" fill="none" stroke="#b4b4c0" stroke-width="0.8"/>
<path d="M778.75 315.6L784.75 306.25L778.75 309.0Z" fill="#7a7a7a" stroke="#8a8a8a" stroke-width="0.4"/><path d="M778.75 315.6L773.1 306.25L778.75 309.0" fill="none" stroke="#b4b4c0" stroke-width="0.8"/>
<path d="M850.75 269.6L856.75 260.25L850.75 263.0Z" fill="#7a7a7a" stroke="#8a8a8a" stroke-width="0.4"/><path d="M850.75 269.6L845.1 260.25L850.75 263.0" fill="none" stroke="#b4b4c0" stroke-width="0.8"/>
<path d="M906.75 374.6L912.75 365.25L906.75 368.0Z" fill="#7a7a7a" stroke="#8a8a8a" stroke-width="0.4"/><path d="M906.75 374.6L901.1 365.25L906.75 368.0" fill="none" stroke="#b4b4c0" stroke-width="0.8"/>
<path d="M986.75 397.6L992.75 388.25L986.75 391.0Z" fill="#7a7a7a" stroke="#8a8a8a" stroke-width="0.4"/><path d="M986.75 397.6L981.1 388.25L986.75 391.0" fill="none" stroke="#b4b4c0" stroke-width="0.8"/>
<path d="M1074.75 480.6L1080.75 471.25L1074.75 474.0Z" fill="#7a7a7a" stroke="#8a8a8a" stroke-width="0.4"/><path d="M1074.75 480.6L1069.1 471.25L1074.75 474.0" fill="none" stroke="#b4b4c0" stroke-width="0.8"/>
</g>
<path d="M1118 443.5H1125.2V454.5H1129.8L1121.5 462L1113.3 454.5H1118Z" fill="none" stroke="#ff0000" stroke-width="1.2"/>
</g>
<g class="ce" clip-path="url(#c1)"><rect x="0" y="508" width="4" height="15" fill="#008000"/><rect x="8" y="505" width="4" height="18" fill="#008000"/><rect x="16" y="503" width="4" height="20" fill="#008000"/><rect x="24" y="501" width="4" height="22" fill="#008000"/><rect x="32" y="501" width="4" height="22" fill="#ff0000"/><rect x="40" y="501" width="4" height="22" fill="#ff0000"/><rect x="48" y="498" width="4" height="25" fill="#008000"/><rect x="56" y="493" width="4" height="30" fill="#008000"/><rect x="64" y="490" width="4" height="33" fill="#008000"/><rect x="72" y="486" width="4" height="37" fill="#008000"/><rect x="80" y="484" width="4" height="39" fill="#008000"/><rect x="88" y="486" width="4" height="37" fill="#ff0000"/><rect x="96" y="488" width="4" height="35" fill="#ff0000"/><rect x="104" y="491" width="4" height="32" fill="#ff0000"/><rect x="112" y="493" width="4" height="30" fill="#ff0000"/><rect x="120" y="497" width="4" height="26" fill="#ff0000"/><rect x="128" y="500" width="4" height="23" fill="#ff0000"/><rect x="136" y="505" width="4" height="18" fill="#ff0000"/><rect x="144" y="507" width="4" height="16" fill="#ff0000"/><rect x="152" y="509" width="4" height="14" fill="#ff0000"/><rect x="160" y="513" width="4" height="10" fill="#ff0000"/><rect x="168" y="518" width="4" height="5" fill="#ff0000"/><rect x="177" y="523" width="2" height="1" fill="#ff0000"/><rect x="184" y="523" width="4" height="8" fill="#ff0000"/><rect x="192" y="523" width="4" height="14" fill="#ff0000"/><rect x="200" y="523" width="4" height="18" fill="#ff0000"/><rect x="208" y="523" width="4" height="20" fill="#ff0000"/><rect x="216" y="523" width="4" height="22" fill="#ff0000"/><rect x="224" y="523" width="4" height="24" fill="#ff0000"/><rect x="232" y="523" width="4" height="27" fill="#ff0000"/><rect x="240" y="523" width="4" height="31" fill="#ff0000"/><rect x="248" y="523" width="4" height="33" fill="#ff0000"/><rect x="256" y="523" width="4" height="36" fill="#ff0000"/><rect x="264" y="523" width="4" height="35" fill="#008000"/><rect x="272" y="523" width="4" height="33" fill="#008000"/><rect x="280" y="523" width="4" height="30" fill="#008000"/><rect x="288" y="523" width="4" height="28" fill="#008000"/><rect x="296" y="523" width="4" height="26" fill="#008000"/><rect x="304" y="523" width="4" height="25" fill="#008000"/><rect x="312" y="523" width="4" height="26" fill="#ff0000"/><rect x="320" y="523" width="4" height="27" fill="#ff0000"/><rect x="328" y="523" width="4" height="29" fill="#ff0000"/><rect x="336" y="523" width="4" height="30" fill="#ff0000"/><rect x="344" y="523" width="4" height="30" fill="#ff0000"/><rect x="352" y="523" width="4" height="30" fill="#008000"/><rect x="360" y="523" width="4" height="30" fill="#008000"/><rect x="368" y="523" width="4" height="27" fill="#008000"/><rect x="376" y="523" width="4" height="24" fill="#008000"/><rect x="384" y="523" width="4" height="23" fill="#008000"/><rect x="392" y="523" width="4" height="21" fill="#008000"/><rect x="400" y="523" width="4" height="20" fill="#008000"/><rect x="408" y="523" width="4" height="19" fill="#008000"/><rect x="416" y="523" width="4" height="19" fill="#ff0000"/><rect x="424" y="523" width="4" height="19" fill="#008000"/><rect x="432" y="523" width="4" height="20" fill="#ff0000"/><rect x="440" y="523" width="4" height="22" fill="#ff0000"/><rect x="448" y="523" width="4" height="24" fill="#ff0000"/><rect x="456" y="523" width="4" height="28" fill="#ff0000"/><rect x="464" y="523" width="4" height="31" fill="#ff0000"/><rect x="472" y="523" width="4" height="34" fill="#ff0000"/><rect x="480" y="523" width="4" height="34" fill="#ff0000"/><rect x="488" y="523" width="4" height="33" fill="#008000"/><rect x="496" y="523" width="4" height="31" fill="#008000"/><rect x="504" y="523" width="4" height="31" fill="#008000"/><rect x="512" y="523" width="4" height="31" fill="#008000"/><rect x="520" y="523" width="4" height="31" fill="#ff0000"/><rect x="528" y="523" width="4" height="32" fill="#ff0000"/><rect x="536" y="523" width="4" height="30" fill="#008000"/><rect x="544" y="523" width="4" height="28" fill="#008000"/><rect x="552" y="523" width="4" height="24" fill="#008000"/><rect x="560" y="523" width="4" height="18" fill="#008000"/><rect x="568" y="523" width="4" height="13" fill="#008000"/><rect x="576" y="523" width="4" height="9" fill="#008000"/><rect x="584" y="523" width="4" height="5" fill="#008000"/><rect x="592" y="523" width="4" height="2" fill="#008000"/><rect x="600" y="523" width="4" height="1" fill="#008000"/><rect x="608" y="522" width="4" height="1" fill="#008000"/><rect x="616" y="520" width="4" height="3" fill="#008000"/><rect x="624" y="520" width="4" height="3" fill="#008000"/><rect x="632" y="520" width="4" height="3" fill="#008000"/><rect x="640" y="519" width="4" height="4" fill="#008000"/><rect x="648" y="517" width="4" height="6" fill="#008000"/><rect x="656" y="515" width="4" height="8" fill="#008000"/><rect x="664" y="512" width="4" height="11" fill="#008000"/><rect x="672" y="511" width="4" height="12" fill="#008000"/><rect x="680" y="512" width="4" height="11" fill="#ff0000"/><rect x="688" y="514" width="4" height="9" fill="#ff0000"/><rect x="696" y="515" width="4" height="8" fill="#ff0000"/><rect x="704" y="515" width="4" height="8" fill="#008000"/><rect x="712" y="513" width="4" height="10" fill="#008000"/><rect x="720" y="511" width="4" height="12" fill="#008000"/><rect x="728" y="508" width="4" height="15" fill="#008000"/><rect x="736" y="507" width="4" height="16" fill="#008000"/><rect x="744" y="508" width="4" height="15" fill="#ff0000"/><rect x="752" y="510" width="4" height="13" fill="#ff0000"/><rect x="760" y="513" width="4" height="10" fill="#ff0000"/><rect x="768" y="516" width="4" height="7" fill="#ff0000"/><rect x="776" y="522" width="4" height="1" fill="#ff0000"/><rect x="784" y="523" width="4" height="2" fill="#ff0000"/><rect x="792" y="523" width="4" height="2" fill="#ff0000"/><rect x="801" y="523" width="2" height="1" fill="#008000"/><rect x="808" y="522" width="4" height="1" fill="#008000"/><rect x="816" y="518" width="4" height="5" fill="#008000"/><rect x="824" y="516" width="4" height="7" fill="#008000"/><rect x="832" y="515" width="4" height="8" fill="#008000"/><rect x="840" y="516" width="4" height="7" fill="#ff0000"/><rect x="848" y="517" width="4" height="6" fill="#ff0000"/><rect x="856" y="517" width="4" height="6" fill="#ff0000"/><rect x="864" y="518" width="4" height="5" fill="#ff0000"/><rect x="872" y="520" width="4" height="3" fill="#ff0000"/><rect x="880" y="522" width="4" height="1" fill="#ff0000"/><rect x="889" y="523" width="2" height="1" fill="#ff0000"/><rect x="896" y="523" width="4" height="8" fill="#ff0000"/><rect x="904" y="523" width="4" height="16" fill="#ff0000"/><rect x="912" y="523" width="4" height="23" fill="#ff0000"/><rect x="920" y="523" width="4" height="28" fill="#ff0000"/><rect x="928" y="523" width="4" height="32" fill="#ff0000"/><rect x="936" y="523" width="4" height="30" fill="#008000"/><rect x="944" y="523" width="4" height="29" fill="#008000"/><rect x="952" y="523" width="4" height="27" fill="#008000"/><rect x="960" y="523" width="4" height="27" fill="#ff0000"/><rect x="968" y="523" width="4" height="28" fill="#ff0000"/><rect x="976" y="523" width="4" height="31" fill="#ff0000"/><rect x="984" y="523" width="4" height="33" fill="#ff0000"/><rect x="992" y="523" width="4" height="35" fill="#ff0000"/><rect x="1000" y="523" width="4" height="33" fill="#008000"/><rect x="1008" y="523" width="4" height="29" fill="#008000"/><rect x="1016" y="523" width="4" height="26" fill="#008000"/><rect x="1024" y="523" width="4" height="25" fill="#008000"/><rect x="1032" y="523" width="4" height="26" fill="#ff0000"/><rect x="1040" y="523" width="4" height="30" fill="#ff0000"/><rect x="1048" y="523" width="4" height="35" fill="#ff0000"/><rect x="1056" y="523" width="4" height="39" fill="#ff0000"/><rect x="1064" y="523" width="4" height="41" fill="#ff0000"/><rect x="1072" y="523" width="4" height="43" fill="#ff0000"/><rect x="1080" y="523" width="4" height="43" fill="#ff0000"/><rect x="1088" y="523" width="4" height="43" fill="#ff0000"/><rect x="1096" y="523" width="4" height="42" fill="#008000"/><rect x="1104" y="523" width="4" height="39" fill="#008000"/></g>
<g class="ce" clip-path="url(#c2)"><rect x="0" y="605" width="4" height="14" fill="#008000"/><rect x="8" y="600" width="4" height="19" fill="#008000"/><rect x="16" y="599" width="4" height="20" fill="#008000"/><rect x="24" y="601" width="4" height="18" fill="#ff0000"/><rect x="32" y="609" width="4" height="10" fill="#ff0000"/><rect x="40" y="617" width="4" height="2" fill="#ff0000"/><rect x="48" y="609" width="4" height="10" fill="#008000"/><rect x="56" y="600" width="4" height="19" fill="#008000"/><rect x="64" y="594" width="4" height="25" fill="#008000"/><rect x="72" y="593" width="4" height="26" fill="#008000"/><rect x="80" y="596" width="4" height="23" fill="#ff0000"/><rect x="88" y="614" width="4" height="5" fill="#ff0000"/><rect x="96" y="619" width="4" height="6" fill="#ff0000"/><rect x="104" y="619" width="4" height="14" fill="#ff0000"/><rect x="112" y="619" width="4" height="18" fill="#ff0000"/><rect x="120" y="619" width="4" height="21" fill="#ff0000"/><rect x="128" y="619" width="4" height="24" fill="#ff0000"/><rect x="136" y="619" width="4" height="27" fill="#ff0000"/><rect x="144" y="619" width="4" height="24" fill="#008000"/><rect x="152" y="619" width="4" height="19" fill="#008000"/><rect x="160" y="619" width="4" height="22" fill="#ff0000"/><rect x="168" y="619" width="4" height="28" fill="#ff0000"/><rect x="176" y="619" width="4" height="37" fill="#ff0000"/><rect x="184" y="619" width="4" height="44" fill="#ff0000"/><rect x="192" y="619" width="4" height="46" fill="#ff0000"/><rect x="200" y="619" width="4" height="38" fill="#008000"/><rect x="208" y="619" width="4" height="29" fill="#008000"/><rect x="216" y="619" width="4" height="20" fill="#008000"/><rect x="224" y="619" width="4" height="18" fill="#008000"/><rect x="232" y="619" width="4" height="19" fill="#ff0000"/><rect x="240" y="619" width="4" height="21" fill="#ff0000"/><rect x="248" y="619" width="4" height="21" fill="#008000"/><rect x="256" y="619" width="4" height="19" fill="#008000"/><rect x="264" y="619" width="4" height="10" fill="#008000"/><rect x="272" y="617" width="4" height="2" fill="#008000"/><rect x="280" y="607" width="4" height="12" fill="#008000"/><rect x="288" y="603" width="4" height="16" fill="#008000"/><rect x="296" y="604" width="4" height="15" fill="#ff0000"/><rect x="304" y="607" width="4" height="12" fill="#ff0000"/><rect x="312" y="618" width="4" height="1" fill="#ff0000"/><rect x="320" y="619" width="4" height="4" fill="#ff0000"/><rect x="328" y="619" width="4" height="9" fill="#ff0000"/><rect x="336" y="619" width="4" height="9" fill="#ff0000"/><rect x="344" y="619" width="4" height="6" fill="#008000"/><rect x="352" y="619" width="4" height="3" fill="#008000"/><rect x="361" y="619" width="2" height="1" fill="#008000"/><rect x="368" y="610" width="4" height="9" fill="#008000"/><rect x="376" y="606" width="4" height="13" fill="#008000"/><rect x="384" y="607" width="4" height="12" fill="#ff0000"/><rect x="392" y="606" width="4" height="13" fill="#008000"/><rect x="400" y="608" width="4" height="11" fill="#ff0000"/><rect x="408" y="611" width="4" height="8" fill="#ff0000"/><rect x="416" y="615" width="4" height="4" fill="#ff0000"/><rect x="424" y="616" width="4" height="3" fill="#ff0000"/><rect x="433" y="619" width="2" height="1" fill="#ff0000"/><rect x="440" y="619" width="4" height="7" fill="#ff0000"/><rect x="448" y="619" width="4" height="12" fill="#ff0000"/><rect x="456" y="619" width="4" height="20" fill="#ff0000"/><rect x="464" y="619" width="4" height="23" fill="#ff0000"/><rect x="472" y="619" width="4" height="23" fill="#008000"/><rect x="480" y="619" width="4" height="14" fill="#008000"/><rect x="488" y="619" width="4" height="3" fill="#008000"/><rect x="496" y="615" width="4" height="4" fill="#008000"/><rect x="504" y="613" width="4" height="6" fill="#008000"/><rect x="512" y="615" width="4" height="4" fill="#ff0000"/><rect x="521" y="619" width="2" height="1" fill="#ff0000"/><rect x="528" y="619" width="4" height="2" fill="#ff0000"/><rect x="536" y="618" width="4" height="1" fill="#008000"/><rect x="544" y="611" width="4" height="8" fill="#008000"/><rect x="552" y="600" width="4" height="19" fill="#008000"/><rect x="560" y="589" width="4" height="30" fill="#008000"/><rect x="568" y="586" width="4" height="33" fill="#008000"/><rect x="576" y="587" width="4" height="32" fill="#ff0000"/><rect x="584" y="586" width="4" height="33" fill="#008000"/><rect x="592" y="592" width="4" height="27" fill="#ff0000"/><rect x="600" y="601" width="4" height="18" fill="#ff0000"/><rect x="608" y="605" width="4" height="14" fill="#ff0000"/><rect x="616" y="606" width="4" height="13" fill="#ff0000"/><rect x="624" y="611" width="4" height="8" fill="#ff0000"/><rect x="632" y="614" width="4" height="5" fill="#ff0000"/><rect x="640" y="616" width="4" height="3" fill="#ff0000"/><rect x="648" y="611" width="4" height="8" fill="#008000"/><rect x="656" y="607" width="4" height="12" fill="#008000"/><rect x="664" y="603" width="4" height="16" fill="#008000"/><rect x="672" y="605" width="4" height="14" fill="#ff0000"/><rect x="680" y="615" width="4" height="4" fill="#ff0000"/><rect x="688" y="619" width="4" height="6" fill="#ff0000"/><rect x="696" y="619" width="4" height="9" fill="#ff0000"/><rect x="704" y="619" width="4" height="5" fill="#008000"/><rect x="712" y="616" width="4" height="3" fill="#008000"/><rect x="720" y="609" width="4" height="10" fill="#008000"/><rect x="728" y="604" width="4" height="15" fill="#008000"/><rect x="736" y="607" width="4" height="12" fill="#ff0000"/><rect x="744" y="615" width="4" height="4" fill="#ff0000"/><rect x="752" y="619" width="4" height="6" fill="#ff0000"/><rect x="760" y="619" width="4" height="13" fill="#ff0000"/><rect x="768" y="619" width="4" height="20" fill="#ff0000"/><rect x="776" y="619" width="4" height="29" fill="#ff0000"/><rect x="784" y="619" width="4" height="28" fill="#008000"/><rect x="792" y="619" width="4" height="19" fill="#008000"/><rect x="800" y="619" width="4" height="5" fill="#008000"/><rect x="808" y="614" width="4" height="5" fill="#008000"/><rect x="816" y="603" width="4" height="16" fill="#008000"/><rect x="824" y="601" width="4" height="18" fill="#008000"/><rect x="832" y="605" width="4" height="14" fill="#ff0000"/><rect x="840" y="614" width="4" height="5" fill="#ff0000"/><rect x="848" y="619" width="4" height="2" fill="#ff0000"/><rect x="856" y="619" width="4" height="4" fill="#ff0000"/><rect x="864" y="619" width="4" height="7" fill="#ff0000"/><rect x="872" y="619" width="4" height="9" fill="#ff0000"/><rect x="880" y="619" width="4" height="11" fill="#ff0000"/><rect x="888" y="619" width="4" height="14" fill="#ff0000"/><rect x="896" y="619" width="4" height="30" fill="#ff0000"/><rect x="904" y="619" width="4" height="42" fill="#ff0000"/><rect x="912" y="619" width="4" height="49" fill="#ff0000"/><rect x="920" y="619" width="4" height="48" fill="#008000"/><rect x="928" y="619" width="4" height="38" fill="#008000"/><rect x="936" y="619" width="4" height="16" fill="#008000"/><rect x="945" y="619" width="2" height="1" fill="#008000"/><rect x="952" y="610" width="4" height="9" fill="#008000"/><rect x="960" y="612" width="4" height="7" fill="#ff0000"/><rect x="968" y="619" width="4" height="2" fill="#ff0000"/><rect x="976" y="619" width="4" height="10" fill="#ff0000"/><rect x="984" y="619" width="4" height="14" fill="#ff0000"/><rect x="992" y="619" width="4" height="15" fill="#ff0000"/><rect x="1000" y="619" width="4" height="4" fill="#008000"/><rect x="1008" y="609" width="4" height="10" fill="#008000"/><rect x="1016" y="601" width="4" height="18" fill="#008000"/><rect x="1024" y="604" width="4" height="15" fill="#ff0000"/><rect x="1032" y="612" width="4" height="7" fill="#ff0000"/><rect x="1040" y="619" width="4" height="10" fill="#ff0000"/><rect x="1048" y="619" width="4" height="24" fill="#ff0000"/><rect x="1056" y="619" width="4" height="28" fill="#ff0000"/><rect x="1064" y="619" width="4" height="24" fill="#008000"/><rect x="1072" y="619" width="4" height="20" fill="#008000"/><rect x="1080" y="619" width="4" height="11" fill="#008000"/><rect x="1088" y="619" width="4" height="6" fill="#008000"/><rect x="1096" y="618" width="4" height="1" fill="#008000"/><rect x="1104" y="608" width="4" height="11" fill="#008000"/></g>
<g class="ce" clip-path="url(#c3)"><rect x="0" y="721" width="4" height="11" fill="#ff0000"/><rect x="8" y="721" width="4" height="11" fill="#008000"/><rect x="16" y="721" width="4" height="11" fill="#008000"/><rect x="24" y="720" width="4" height="12" fill="#008000"/><rect x="32" y="717" width="4" height="15" fill="#008000"/><rect x="40" y="713" width="4" height="19" fill="#008000"/><rect x="48" y="709" width="4" height="23" fill="#008000"/><rect x="56" y="708" width="4" height="24" fill="#008000"/><rect x="64" y="709" width="4" height="23" fill="#ff0000"/><rect x="72" y="710" width="4" height="22" fill="#ff0000"/><rect x="80" y="710" width="4" height="22" fill="#ff0000"/><rect x="88" y="702" width="4" height="30" fill="#008000"/><rect x="96" y="695" width="4" height="37" fill="#008000"/><rect x="104" y="690" width="4" height="42" fill="#008000"/><rect x="112" y="693" width="4" height="39" fill="#ff0000"/><rect x="120" y="695" width="4" height="37" fill="#ff0000"/><rect x="128" y="696" width="4" height="36" fill="#ff0000"/><rect x="136" y="695" width="4" height="37" fill="#008000"/><rect x="144" y="698" width="4" height="34" fill="#ff0000"/><rect x="152" y="702" width="4" height="30" fill="#ff0000"/><rect x="160" y="707" width="4" height="25" fill="#ff0000"/><rect x="168" y="710" width="4" height="22" fill="#ff0000"/><rect x="176" y="711" width="4" height="21" fill="#ff0000"/><rect x="184" y="713" width="4" height="19" fill="#ff0000"/><rect x="192" y="714" width="4" height="18" fill="#ff0000"/><rect x="200" y="720" width="4" height="12" fill="#ff0000"/><rect x="208" y="728" width="4" height="4" fill="#ff0000"/><rect x="216" y="728" width="4" height="4" fill="#ff0000"/><rect x="224" y="723" width="4" height="9" fill="#008000"/><rect x="232" y="721" width="4" height="11" fill="#008000"/><rect x="240" y="719" width="4" height="13" fill="#008000"/><rect x="248" y="717" width="4" height="15" fill="#008000"/><rect x="256" y="715" width="4" height="17" fill="#008000"/><rect x="264" y="711" width="4" height="21" fill="#008000"/><rect x="272" y="708" width="4" height="24" fill="#008000"/><rect x="280" y="705" width="4" height="27" fill="#008000"/><rect x="288" y="704" width="4" height="28" fill="#008000"/><rect x="296" y="703" width="4" height="29" fill="#008000"/><rect x="304" y="704" width="4" height="28" fill="#ff0000"/><rect x="312" y="709" width="4" height="23" fill="#ff0000"/><rect x="320" y="712" width="4" height="20" fill="#ff0000"/><rect x="328" y="713" width="4" height="19" fill="#ff0000"/><rect x="336" y="712" width="4" height="20" fill="#008000"/><rect x="344" y="711" width="4" height="21" fill="#008000"/><rect x="352" y="710" width="4" height="22" fill="#008000"/><rect x="360" y="709" width="4" height="23" fill="#008000"/><rect x="368" y="705" width="4" height="27" fill="#008000"/><rect x="376" y="704" width="4" height="28" fill="#008000"/><rect x="384" y="704" width="4" height="28" fill="#ff0000"/><rect x="392" y="706" width="4" height="26" fill="#ff0000"/><rect x="400" y="706" width="4" height="26" fill="#008000"/><rect x="408" y="706" width="4" height="26" fill="#ff0000"/><rect x="416" y="708" width="4" height="24" fill="#ff0000"/><rect x="424" y="709" width="4" height="23" fill="#ff0000"/><rect x="432" y="710" width="4" height="22" fill="#ff0000"/><rect x="440" y="710" width="4" height="22" fill="#008000"/><rect x="448" y="709" width="4" height="23" fill="#008000"/><rect x="456" y="708" width="4" height="24" fill="#008000"/><rect x="464" y="708" width="4" height="24" fill="#ff0000"/><rect x="472" y="708" width="4" height="24" fill="#ff0000"/><rect x="480" y="705" width="4" height="27" fill="#008000"/><rect x="488" y="700" width="4" height="32" fill="#008000"/><rect x="496" y="695" width="4" height="37" fill="#008000"/><rect x="504" y="693" width="4" height="39" fill="#008000"/><rect x="512" y="693" width="4" height="39" fill="#008000"/><rect x="520" y="696" width="4" height="36" fill="#ff0000"/><rect x="528" y="697" width="4" height="35" fill="#ff0000"/><rect x="536" y="698" width="4" height="34" fill="#ff0000"/><rect x="544" y="697" width="4" height="35" fill="#008000"/><rect x="552" y="696" width="4" height="36" fill="#008000"/><rect x="560" y="696" width="4" height="36" fill="#ff0000"/><rect x="568" y="697" width="4" height="35" fill="#ff0000"/><rect x="576" y="700" width="4" height="32" fill="#ff0000"/><rect x="584" y="702" width="4" height="30" fill="#ff0000"/><rect x="592" y="707" width="4" height="25" fill="#ff0000"/><rect x="600" y="714" width="4" height="18" fill="#ff0000"/><rect x="608" y="718" width="4" height="14" fill="#ff0000"/><rect x="616" y="720" width="4" height="12" fill="#ff0000"/><rect x="624" y="721" width="4" height="11" fill="#ff0000"/><rect x="632" y="725" width="4" height="7" fill="#ff0000"/><rect x="640" y="728" width="4" height="4" fill="#ff0000"/><rect x="648" y="729" width="4" height="3" fill="#ff0000"/><rect x="656" y="730" width="4" height="2" fill="#ff0000"/><rect x="664" y="729" width="4" height="3" fill="#008000"/><rect x="672" y="730" width="4" height="2" fill="#ff0000"/><rect x="680" y="731" width="4" height="1" fill="#ff0000"/><rect x="688" y="729" width="4" height="3" fill="#008000"/><rect x="696" y="726" width="4" height="6" fill="#008000"/><rect x="704" y="724" width="4" height="8" fill="#008000"/><rect x="712" y="726" width="4" height="6" fill="#ff0000"/><rect x="720" y="729" width="4" height="3" fill="#ff0000"/><rect x="728" y="731" width="4" height="1" fill="#ff0000"/><rect x="737" y="732" width="2" height="1" fill="#008000"/><rect x="744" y="728" width="4" height="4" fill="#008000"/><rect x="752" y="723" width="4" height="9" fill="#008000"/><rect x="760" y="722" width="4" height="10" fill="#008000"/><rect x="768" y="722" width="4" height="10" fill="#008000"/><rect x="776" y="722" width="4" height="10" fill="#008000"/><rect x="784" y="722" width="4" height="10" fill="#ff0000"/><rect x="792" y="724" width="4" height="8" fill="#ff0000"/><rect x="800" y="727" width="4" height="5" fill="#ff0000"/><rect x="808" y="731" width="4" height="1" fill="#ff0000"/><rect x="816" y="727" width="4" height="5" fill="#008000"/><rect x="824" y="727" width="4" height="5" fill="#008000"/><rect x="832" y="730" width="4" height="2" fill="#ff0000"/><rect x="840" y="728" width="4" height="4" fill="#008000"/><rect x="848" y="726" width="4" height="6" fill="#008000"/><rect x="856" y="725" width="4" height="7" fill="#008000"/><rect x="864" y="724" width="4" height="8" fill="#008000"/><rect x="872" y="723" width="4" height="9" fill="#008000"/><rect x="880" y="723" width="4" height="9" fill="#ff0000"/><rect x="888" y="726" width="4" height="6" fill="#ff0000"/><rect x="896" y="726" width="4" height="6" fill="#ff0000"/><rect x="904" y="727" width="4" height="5" fill="#ff0000"/><rect x="912" y="727" width="4" height="5" fill="#ff0000"/><rect x="920" y="730" width="4" height="2" fill="#ff0000"/><rect x="928" y="730" width="4" height="2" fill="#008000"/><rect x="936" y="721" width="4" height="11" fill="#008000"/><rect x="944" y="711" width="4" height="21" fill="#008000"/><rect x="952" y="705" width="4" height="27" fill="#008000"/><rect x="960" y="704" width="4" height="28" fill="#008000"/><rect x="968" y="705" width="4" height="27" fill="#ff0000"/><rect x="976" y="707" width="4" height="25" fill="#ff0000"/><rect x="984" y="707" width="4" height="25" fill="#008000"/><rect x="992" y="708" width="4" height="24" fill="#ff0000"/><rect x="1000" y="706" width="4" height="26" fill="#008000"/><rect x="1008" y="703" width="4" height="29" fill="#008000"/><rect x="1016" y="700" width="4" height="32" fill="#008000"/><rect x="1024" y="698" width="4" height="34" fill="#008000"/><rect x="1032" y="698" width="4" height="34" fill="#ff0000"/><rect x="1040" y="703" width="4" height="29" fill="#ff0000"/><rect x="1048" y="708" width="4" height="24" fill="#ff0000"/><rect x="1056" y="710" width="4" height="22" fill="#ff0000"/><rect x="1064" y="706" width="4" height="26" fill="#008000"/><rect x="1072" y="701" width="4" height="31" fill="#008000"/><rect x="1080" y="697" width="4" height="35" fill="#008000"/><rect x="1088" y="695" width="4" height="37" fill="#008000"/><rect x="1096" y="694" width="4" height="38" fill="#008000"/><rect x="1104" y="692" width="4" height="40" fill="#008000"/><rect x="1112" y="688" width="4" height="44" fill="#008000"/><rect x="1120" y="688" width="4" height="44" fill="#008000"/><rect x="1128" y="689" width="4" height="43" fill="#ff0000"/><rect x="1136" y="692" width="4" height="40" fill="#ff0000"/><rect x="1144" y="694" width="4" height="38" fill="#ff0000"/></g>
<g class="ce" clip-path="url(#c3)"><rect x="0" y="732" width="4" height="7" fill="#008000"/><rect x="8" y="732" width="4" height="7" fill="#008000"/><rect x="16" y="732" width="4" height="12" fill="#008000"/><rect x="24" y="732" width="4" height="18" fill="#008000"/><rect x="32" y="732" width="4" height="21" fill="#008000"/><rect x="40" y="732" width="4" height="20" fill="#ff0000"/><rect x="48" y="732" width="4" height="17" fill="#ff0000"/><rect x="56" y="732" width="4" height="16" fill="#ff0000"/><rect x="64" y="732" width="4" height="17" fill="#008000"/><rect x="72" y="732" width="4" height="29" fill="#008000"/><rect x="80" y="732" width="4" height="38" fill="#008000"/><rect x="88" y="732" width="4" height="36" fill="#ff0000"/><rect x="96" y="732" width="4" height="31" fill="#ff0000"/><rect x="104" y="732" width="4" height="28" fill="#ff0000"/><rect x="112" y="732" width="4" height="27" fill="#ff0000"/><rect x="120" y="732" width="4" height="27" fill="#ff0000"/><rect x="128" y="732" width="4" height="22" fill="#ff0000"/><rect x="136" y="732" width="4" height="15" fill="#ff0000"/><rect x="144" y="732" width="4" height="10" fill="#ff0000"/><rect x="152" y="732" width="4" height="8" fill="#ff0000"/><rect x="160" y="732" width="4" height="7" fill="#ff0000"/><rect x="168" y="732" width="4" height="6" fill="#ff0000"/><rect x="176" y="732" width="4" height="4" fill="#ff0000"/><rect x="184" y="732" width="4" height="3" fill="#ff0000"/><rect x="192" y="732" width="4" height="13" fill="#008000"/><rect x="200" y="732" width="4" height="18" fill="#008000"/><rect x="208" y="732" width="4" height="22" fill="#008000"/><rect x="216" y="732" width="4" height="22" fill="#008000"/><rect x="224" y="732" width="4" height="22" fill="#ff0000"/><rect x="232" y="732" width="4" height="23" fill="#008000"/><rect x="240" y="732" width="4" height="24" fill="#008000"/><rect x="248" y="732" width="4" height="27" fill="#008000"/><rect x="256" y="732" width="4" height="29" fill="#008000"/><rect x="264" y="732" width="4" height="29" fill="#008000"/><rect x="272" y="732" width="4" height="29" fill="#008000"/><rect x="280" y="732" width="4" height="27" fill="#ff0000"/><rect x="288" y="732" width="4" height="25" fill="#ff0000"/><rect x="296" y="732" width="4" height="17" fill="#ff0000"/><rect x="304" y="732" width="4" height="12" fill="#ff0000"/><rect x="312" y="732" width="4" height="13" fill="#008000"/><rect x="320" y="732" width="4" height="14" fill="#008000"/><rect x="328" y="732" width="4" height="14" fill="#ff0000"/><rect x="336" y="732" width="4" height="15" fill="#008000"/><rect x="344" y="732" width="4" height="16" fill="#008000"/><rect x="352" y="732" width="4" height="21" fill="#008000"/><rect x="360" y="732" width="4" height="22" fill="#008000"/><rect x="368" y="732" width="4" height="18" fill="#ff0000"/><rect x="376" y="732" width="4" height="17" fill="#ff0000"/><rect x="384" y="732" width="4" height="18" fill="#008000"/><rect x="392" y="732" width="4" height="17" fill="#ff0000"/><rect x="400" y="732" width="4" height="13" fill="#ff0000"/><rect x="408" y="732" width="4" height="13" fill="#ff0000"/><rect x="416" y="732" width="4" height="12" fill="#ff0000"/><rect x="424" y="732" width="4" height="12" fill="#008000"/><rect x="432" y="732" width="4" height="15" fill="#008000"/><rect x="440" y="732" width="4" height="15" fill="#008000"/><rect x="448" y="732" width="4" height="14" fill="#ff0000"/><rect x="456" y="732" width="4" height="15" fill="#008000"/><rect x="464" y="732" width="4" height="20" fill="#008000"/><rect x="472" y="732" width="4" height="26" fill="#008000"/><rect x="480" y="732" width="4" height="30" fill="#008000"/><rect x="488" y="732" width="4" height="31" fill="#008000"/><rect x="496" y="732" width="4" height="29" fill="#ff0000"/><rect x="504" y="732" width="4" height="25" fill="#ff0000"/><rect x="512" y="732" width="4" height="22" fill="#ff0000"/><rect x="520" y="732" width="4" height="23" fill="#008000"/><rect x="528" y="732" width="4" height="25" fill="#008000"/><rect x="536" y="732" width="4" height="25" fill="#ff0000"/><rect x="544" y="732" width="4" height="23" fill="#ff0000"/><rect x="552" y="732" width="4" height="21" fill="#ff0000"/><rect x="560" y="732" width="4" height="18" fill="#ff0000"/><rect x="568" y="732" width="4" height="15" fill="#ff0000"/><rect x="576" y="732" width="4" height="8" fill="#ff0000"/><rect x="584" y="732" width="4" height="1" fill="#ff0000"/><rect x="592" y="732" width="4" height="2" fill="#008000"/><rect x="600" y="732" width="4" height="1" fill="#ff0000"/><rect x="608" y="732" width="4" height="3" fill="#008000"/><rect x="616" y="732" width="4" height="7" fill="#008000"/><rect x="624" y="732" width="4" height="9" fill="#008000"/><rect x="632" y="732" width="4" height="8" fill="#ff0000"/><rect x="640" y="732" width="4" height="7" fill="#ff0000"/><rect x="648" y="732" width="4" height="5" fill="#ff0000"/><rect x="656" y="732" width="4" height="5" fill="#ff0000"/><rect x="664" y="732" width="4" height="7" fill="#008000"/><rect x="672" y="732" width="4" height="10" fill="#008000"/><rect x="680" y="732" width="4" height="13" fill="#008000"/><rect x="688" y="732" width="4" height="12" fill="#ff0000"/><rect x="696" y="732" width="4" height="8" fill="#ff0000"/><rect x="704" y="732" width="4" height="2" fill="#ff0000"/><rect x="712" y="732" width="4" height="1" fill="#ff0000"/><rect x="720" y="732" width="4" height="2" fill="#008000"/><rect x="728" y="732" width="4" height="8" fill="#008000"/><rect x="736" y="732" width="4" height="12" fill="#008000"/><rect x="744" y="732" width="4" height="10" fill="#ff0000"/><rect x="752" y="732" width="4" height="9" fill="#ff0000"/><rect x="760" y="732" width="4" height="10" fill="#008000"/><rect x="768" y="732" width="4" height="9" fill="#ff0000"/><rect x="776" y="732" width="4" height="5" fill="#ff0000"/><rect x="784" y="732" width="4" height="1" fill="#ff0000"/><rect x="792" y="732" width="4" height="4" fill="#008000"/><rect x="800" y="732" width="4" height="9" fill="#008000"/><rect x="808" y="732" width="4" height="8" fill="#ff0000"/><rect x="816" y="732" width="4" height="1" fill="#ff0000"/><rect x="824" y="732" width="4" height="5" fill="#008000"/><rect x="832" y="732" width="4" height="5" fill="#008000"/><rect x="840" y="732" width="4" height="5" fill="#ff0000"/><rect x="848" y="732" width="4" height="7" fill="#008000"/><rect x="856" y="732" width="4" height="9" fill="#008000"/><rect x="864" y="732" width="4" height="7" fill="#ff0000"/><rect x="872" y="732" width="4" height="3" fill="#ff0000"/><rect x="880" y="732" width="4" height="4" fill="#008000"/><rect x="888" y="732" width="4" height="4" fill="#ff0000"/><rect x="896" y="732" width="4" height="1" fill="#ff0000"/><rect x="904" y="732" width="4" height="1" fill="#008000"/><rect x="912" y="732" width="4" height="6" fill="#008000"/><rect x="920" y="732" width="4" height="19" fill="#008000"/><rect x="928" y="732" width="4" height="30" fill="#008000"/><rect x="936" y="732" width="4" height="32" fill="#008000"/><rect x="944" y="732" width="4" height="30" fill="#ff0000"/><rect x="952" y="732" width="4" height="26" fill="#ff0000"/><rect x="960" y="732" width="4" height="22" fill="#ff0000"/><rect x="968" y="732" width="4" height="22" fill="#ff0000"/><rect x="976" y="732" width="4" height="21" fill="#ff0000"/><rect x="984" y="732" width="4" height="21" fill="#008000"/><rect x="992" y="732" width="4" height="26" fill="#008000"/><rect x="1000" y="732" width="4" height="29" fill="#008000"/><rect x="1008" y="732" width="4" height="29" fill="#008000"/><rect x="1016" y="732" width="4" height="27" fill="#ff0000"/><rect x="1024" y="732" width="4" height="18" fill="#ff0000"/><rect x="1032" y="732" width="4" height="11" fill="#ff0000"/><rect x="1040" y="732" width="4" height="11" fill="#008000"/><rect x="1048" y="732" width="4" height="19" fill="#008000"/><rect x="1056" y="732" width="4" height="25" fill="#008000"/><rect x="1064" y="732" width="4" height="27" fill="#008000"/><rect x="1072" y="732" width="4" height="28" fill="#008000"/><rect x="1080" y="732" width="4" height="28" fill="#008000"/><rect x="1088" y="732" width="4" height="32" fill="#008000"/><rect x="1096" y="732" width="4" height="36" fill="#008000"/><rect x="1104" y="732" width="4" height="33" fill="#ff0000"/><rect x="1112" y="732" width="4" height="30" fill="#ff0000"/><rect x="1120" y="732" width="4" height="26" fill="#ff0000"/><rect x="1128" y="732" width="4" height="22" fill="#ff0000"/></g>
<g class="ce" stroke="#e4e4e4" stroke-width="1" fill="none" stroke-dasharray="3 3">
<path d="M2 523.5H1232"/>
<path d="M2 619.5H1232"/>
<path d="M2 732.5H1232"/>
</g>
<rect x="4" y="477" width="70" height="13" fill="#fff"/>
<rect x="4" y="579" width="66" height="13" fill="#fff"/>
<rect x="4" y="681" width="102" height="13" fill="#fff"/>
<text class="wl" x="6" y="488">AOcust -15.869</text>
<text class="wl" x="6" y="590">ACcust 1.3030</text>
<text class="wl" x="6" y="692">GatorCust 6.990 -4.280</text>
<g class="ce" fill="#000">
<rect x="2" y="2" width="1231" height="1"/>
<rect x="2" y="473" width="1231" height="1"/>
<rect x="2" y="475" width="1231" height="1"/>
<rect x="2" y="575" width="1231" height="1"/>
<rect x="2" y="577" width="1231" height="1"/>
<rect x="2" y="677" width="1231" height="1"/>
<rect x="2" y="679" width="1231" height="1"/>
<rect x="2" y="779" width="1231" height="1"/>
<rect x="2" y="2" width="1" height="472"/>
<rect x="2" y="475" width="1" height="101"/>
<rect x="2" y="577" width="1" height="101"/>
<rect x="2" y="679" width="1" height="101"/>
<rect x="1232" y="2" width="1" height="778"/>
<rect x="1233" y="25" width="4" height="1"/>
<rect x="1233" y="57" width="4" height="1"/>
<rect x="1233" y="89" width="4" height="1"/>
<rect x="1233" y="121" width="4" height="1"/>
<rect x="1233" y="153" width="4" height="1"/>
<rect x="1233" y="185" width="4" height="1"/>
<rect x="1233" y="217" width="4" height="1"/>
<rect x="1233" y="249" width="4" height="1"/>
<rect x="1233" y="281" width="4" height="1"/>
<rect x="1233" y="313" width="4" height="1"/>
<rect x="1233" y="345" width="4" height="1"/>
<rect x="1233" y="377" width="4" height="1"/>
<rect x="1233" y="409" width="4" height="1"/>
<rect x="1233" y="441" width="4" height="1"/>
<rect x="1233" y="476" width="4" height="1"/>
<rect x="1233" y="574" width="4" height="1"/>
<rect x="1233" y="578" width="4" height="1"/>
<rect x="1233" y="676" width="4" height="1"/>
<rect x="1233" y="680" width="4" height="1"/>
<rect x="1233" y="778" width="4" height="1"/>
<rect x="2" y="780" width="1" height="4"/>
<rect x="66" y="780" width="1" height="4"/>
<rect x="130" y="780" width="1" height="4"/>
<rect x="194" y="780" width="1" height="4"/>
<rect x="258" y="780" width="1" height="4"/>
<rect x="322" y="780" width="1" height="4"/>
<rect x="386" y="780" width="1" height="4"/>
<rect x="450" y="780" width="1" height="4"/>
<rect x="514" y="780" width="1" height="4"/>
<rect x="578" y="780" width="1" height="4"/>
<rect x="642" y="780" width="1" height="4"/>
<rect x="706" y="780" width="1" height="4"/>
<rect x="770" y="780" width="1" height="4"/>
<rect x="834" y="780" width="1" height="4"/>
<rect x="898" y="780" width="1" height="4"/>
<rect x="962" y="780" width="1" height="4"/>
<rect x="1026" y="780" width="1" height="4"/>
<rect x="1090" y="780" width="1" height="4"/>
</g>
<text x="1237.5" y="28.7">546.30</text>
<text x="1237.5" y="60.7">540.65</text>
<text x="1237.5" y="92.7">535.00</text>
<text x="1237.5" y="124.7">529.35</text>
<text x="1237.5" y="156.7">523.70</text>
<text x="1237.5" y="188.7">518.05</text>
<text x="1237.5" y="220.7">512.40</text>
<text x="1237.5" y="252.7">506.75</text>
<text x="1237.5" y="284.7">501.10</text>
<text x="1237.5" y="316.7">495.45</text>
<text x="1237.5" y="348.7">489.80</text>
<text x="1237.5" y="380.7">484.15</text>
<text x="1237.5" y="412.7">478.50</text>
<rect class="ce" x="1235" y="434" width="34" height="11" fill="#cc0000"/>
<text x="1237.7" y="442.8" style="fill:#fff;stroke:#fff">473.29</text>
<text x="1237.6" y="483.7">19.876</text>
<text x="1237.6" y="525.7">0.000</text>
<text x="1237.6" y="572.7">-21.223</text>
<text x="1237.6" y="585.7">4.8380</text>
<text x="1237.6" y="621.7">0.0000</text>
<text x="1237.6" y="674.7">-6.5720</text>
<text x="1237.6" y="687.7">9.859</text>
<text x="1237.6" y="734.7">0.000</text>
<text x="1237.6" y="776.7">-8.876</text>
<text class="dl" x="2" y="792">27 Oct 2025</text>
<text class="dl" x="66" y="792">28 Oct 17:00</text>
<text class="dl" x="130" y="792">29 Oct 18:00</text>
<text class="dl" x="194" y="792">30 Oct 19:00</text>
<text class="dl" x="258" y="792">31 Oct 20:00</text>
<text class="dl" x="322" y="792">3 Nov 22:00</text>
<text class="dl" x="386" y="792">5 Nov 16:00</text>
<text class="dl" x="450" y="792">6 Nov 17:00</text>
<text class="dl" x="514" y="792">7 Nov 18:00</text>
<text class="dl" x="578" y="792">10 Nov 19:00</text>
<text class="dl" x="642" y="792">11 Nov 20:00</text>
<text class="dl" x="706" y="792">12 Nov 21:00</text>
<text class="dl" x="770" y="792">13 Nov 22:00</text>
<text class="dl" x="834" y="792">17 Nov 16:00</text>
<text class="dl" x="898" y="792">18 Nov 17:00</text>
<text class="dl" x="962" y="792">19 Nov 18:00</text>
<text class="dl" x="1026" y="792">20 Nov 19:00</text>
<text class="dl" x="1090" y="792">21 Nov 20:00</text>
</svg></body></html>
